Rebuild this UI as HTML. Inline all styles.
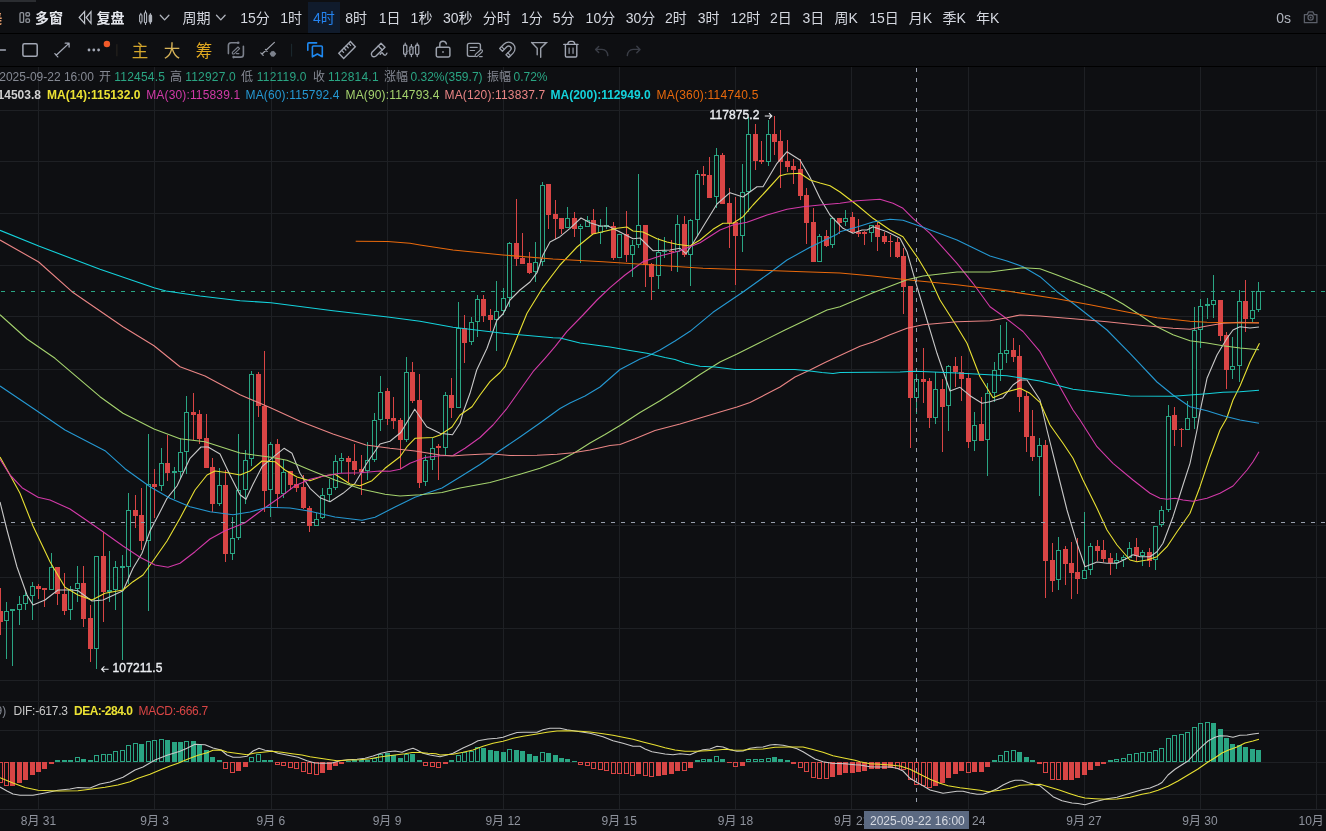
<!DOCTYPE html><html><head><meta charset="utf-8"><title>chart</title><style>
html,body{margin:0;padding:0;background:#0e0f12;}
body{width:1326px;height:831px;overflow:hidden;position:relative;font-family:"Liberation Sans","Noto Sans CJK SC",sans-serif;color:#d1d4dc;}
.t{position:absolute;white-space:nowrap;line-height:1;}
.tb1 .t{font-size:14px;top:10.5px;color:#d5d8e0;}
.r1 .t{font-size:12px;top:71px;}
.r2 .t{font-size:12px;top:89px;}
.gr{color:#2aa583;letter-spacing:.2px}.gr.n{letter-spacing:0}.gy{color:#858993}
.b{font-weight:bold}
.ax .t{font-size:12px;top:814.5px;color:#8f939d;transform:translateX(-50%);}
svg.ic{position:absolute;overflow:visible}

</style></head><body>
<div style="position:absolute;left:0;top:0;width:36px;height:2px;background:#2b2d31"></div>
<div style="position:absolute;left:0;top:33px;width:1326px;height:1px;background:#000"></div>
<div style="position:absolute;left:0;top:66px;width:1326px;height:1px;background:#000"></div>
<div style="position:absolute;left:308px;top:2px;width:32px;height:31px;background:#101b2c"></div>
<svg width="1326" height="764" viewBox="0 67 1326 764" style="position:absolute;left:0;top:67px">
<g stroke="#1e2024" stroke-width="1" shape-rendering="crispEdges">
<line x1="38.5" y1="67" x2="38.5" y2="809"/>
<line x1="154.5" y1="67" x2="154.5" y2="809"/>
<line x1="271.5" y1="67" x2="271.5" y2="809"/>
<line x1="387.5" y1="67" x2="387.5" y2="809"/>
<line x1="503.5" y1="67" x2="503.5" y2="809"/>
<line x1="619.5" y1="67" x2="619.5" y2="809"/>
<line x1="735.5" y1="67" x2="735.5" y2="809"/>
<line x1="851.5" y1="67" x2="851.5" y2="809"/>
<line x1="968.5" y1="67" x2="968.5" y2="809"/>
<line x1="1084.5" y1="67" x2="1084.5" y2="809"/>
<line x1="1200.5" y1="67" x2="1200.5" y2="809"/>
<line x1="1316.5" y1="67" x2="1316.5" y2="809"/>
<line x1="0" y1="110.5" x2="1326" y2="110.5"/>
<line x1="0" y1="161.5" x2="1326" y2="161.5"/>
<line x1="0" y1="213.5" x2="1326" y2="213.5"/>
<line x1="0" y1="265.5" x2="1326" y2="265.5"/>
<line x1="0" y1="316.5" x2="1326" y2="316.5"/>
<line x1="0" y1="369.5" x2="1326" y2="369.5"/>
<line x1="0" y1="421.5" x2="1326" y2="421.5"/>
<line x1="0" y1="473.5" x2="1326" y2="473.5"/>
<line x1="0" y1="525.5" x2="1326" y2="525.5"/>
<line x1="0" y1="577.5" x2="1326" y2="577.5"/>
<line x1="0" y1="628.5" x2="1326" y2="628.5"/>
<line x1="0" y1="680.5" x2="1326" y2="680.5"/>
<line x1="0" y1="730.5" x2="1326" y2="730.5"/>
<line x1="0" y1="762.5" x2="1326" y2="762.5"/>
<line x1="0" y1="794.5" x2="1326" y2="794.5"/>
</g>
<line x1="0" y1="701.5" x2="1326" y2="701.5" stroke="#191b1f" stroke-width="1" shape-rendering="crispEdges"/>
<line x1="0" y1="809.5" x2="1326" y2="809.5" stroke="#23252a" stroke-width="1" shape-rendering="crispEdges"/>
<line x1="1" y1="291.5" x2="1326" y2="291.5" stroke="#2aa583" stroke-width="1" stroke-dasharray="4 6" shape-rendering="crispEdges"/>
<g shape-rendering="crispEdges">
<line x1="0.5" y1="588" x2="0.5" y2="635" stroke="#d94545" stroke-width="1"/>
<rect x="-2" y="611" width="5" height="11" fill="#d94545"/>
<line x1="6.5" y1="602" x2="6.5" y2="611" stroke="#2aa583" stroke-width="1"/>
<line x1="6.5" y1="621" x2="6.5" y2="659" stroke="#2aa583" stroke-width="1"/>
<rect x="4.5" y="611.5" width="4" height="9" fill="#0e0f12" stroke="#2aa583" stroke-width="1"/>
<line x1="12.5" y1="611" x2="12.5" y2="666" stroke="#2aa583" stroke-width="1"/>
<rect x="10" y="609" width="5" height="2" fill="#2aa583"/>
<line x1="19.5" y1="596" x2="19.5" y2="604" stroke="#2aa583" stroke-width="1"/>
<line x1="19.5" y1="610" x2="19.5" y2="625" stroke="#2aa583" stroke-width="1"/>
<rect x="17.5" y="604.5" width="4" height="5" fill="#0e0f12" stroke="#2aa583" stroke-width="1"/>
<line x1="25.5" y1="590" x2="25.5" y2="595" stroke="#2aa583" stroke-width="1"/>
<line x1="25.5" y1="604" x2="25.5" y2="610" stroke="#2aa583" stroke-width="1"/>
<rect x="23.5" y="595.5" width="4" height="8" fill="#0e0f12" stroke="#2aa583" stroke-width="1"/>
<line x1="32.5" y1="582" x2="32.5" y2="586" stroke="#2aa583" stroke-width="1"/>
<line x1="32.5" y1="596" x2="32.5" y2="620" stroke="#2aa583" stroke-width="1"/>
<rect x="30.5" y="586.5" width="4" height="9" fill="#0e0f12" stroke="#2aa583" stroke-width="1"/>
<line x1="38.5" y1="584" x2="38.5" y2="599" stroke="#d94545" stroke-width="1"/>
<rect x="36" y="586" width="5" height="3" fill="#d94545"/>
<line x1="44.5" y1="588" x2="44.5" y2="607" stroke="#d94545" stroke-width="1"/>
<rect x="42" y="588" width="5" height="2" fill="#d94545"/>
<line x1="51.5" y1="553" x2="51.5" y2="567" stroke="#2aa583" stroke-width="1"/>
<rect x="49.5" y="567.5" width="4" height="22" fill="#0e0f12" stroke="#2aa583" stroke-width="1"/>
<line x1="57.5" y1="567" x2="57.5" y2="605" stroke="#d94545" stroke-width="1"/>
<rect x="55" y="567" width="5" height="27" fill="#d94545"/>
<line x1="64.5" y1="573" x2="64.5" y2="615" stroke="#d94545" stroke-width="1"/>
<rect x="62" y="594" width="5" height="17" fill="#d94545"/>
<line x1="70.5" y1="586" x2="70.5" y2="589" stroke="#2aa583" stroke-width="1"/>
<line x1="70.5" y1="610" x2="70.5" y2="620" stroke="#2aa583" stroke-width="1"/>
<rect x="68.5" y="589.5" width="4" height="20" fill="#0e0f12" stroke="#2aa583" stroke-width="1"/>
<line x1="77.5" y1="566" x2="77.5" y2="583" stroke="#2aa583" stroke-width="1"/>
<line x1="77.5" y1="589" x2="77.5" y2="602" stroke="#2aa583" stroke-width="1"/>
<rect x="75.5" y="583.5" width="4" height="5" fill="#0e0f12" stroke="#2aa583" stroke-width="1"/>
<line x1="83.5" y1="566" x2="83.5" y2="627" stroke="#d94545" stroke-width="1"/>
<rect x="81" y="583" width="5" height="36" fill="#d94545"/>
<line x1="90.5" y1="605" x2="90.5" y2="662" stroke="#d94545" stroke-width="1"/>
<rect x="88" y="618" width="5" height="31" fill="#d94545"/>
<line x1="96.5" y1="649" x2="96.5" y2="669" stroke="#2aa583" stroke-width="1"/>
<rect x="94.5" y="556.5" width="4" height="92" fill="#0e0f12" stroke="#2aa583" stroke-width="1"/>
<line x1="103.5" y1="532" x2="103.5" y2="622" stroke="#d94545" stroke-width="1"/>
<rect x="101" y="556" width="5" height="36" fill="#d94545"/>
<line x1="109.5" y1="551" x2="109.5" y2="590" stroke="#2aa583" stroke-width="1"/>
<line x1="109.5" y1="592" x2="109.5" y2="602" stroke="#2aa583" stroke-width="1"/>
<rect x="107" y="590" width="5" height="2" fill="#2aa583"/>
<line x1="115.5" y1="561" x2="115.5" y2="567" stroke="#2aa583" stroke-width="1"/>
<line x1="115.5" y1="590" x2="115.5" y2="610" stroke="#2aa583" stroke-width="1"/>
<rect x="113.5" y="567.5" width="4" height="22" fill="#0e0f12" stroke="#2aa583" stroke-width="1"/>
<line x1="122.5" y1="555" x2="122.5" y2="566" stroke="#2aa583" stroke-width="1"/>
<line x1="122.5" y1="568" x2="122.5" y2="660" stroke="#2aa583" stroke-width="1"/>
<rect x="120" y="566" width="5" height="2" fill="#2aa583"/>
<line x1="128.5" y1="493" x2="128.5" y2="510" stroke="#2aa583" stroke-width="1"/>
<line x1="128.5" y1="567" x2="128.5" y2="584" stroke="#2aa583" stroke-width="1"/>
<rect x="126.5" y="510.5" width="4" height="56" fill="#0e0f12" stroke="#2aa583" stroke-width="1"/>
<line x1="135.5" y1="495" x2="135.5" y2="528" stroke="#d94545" stroke-width="1"/>
<rect x="133" y="510" width="5" height="6" fill="#d94545"/>
<line x1="141.5" y1="488" x2="141.5" y2="550" stroke="#d94545" stroke-width="1"/>
<rect x="139" y="515" width="5" height="26" fill="#d94545"/>
<line x1="148.5" y1="434" x2="148.5" y2="484" stroke="#2aa583" stroke-width="1"/>
<line x1="148.5" y1="541" x2="148.5" y2="611" stroke="#2aa583" stroke-width="1"/>
<rect x="146.5" y="484.5" width="4" height="56" fill="#0e0f12" stroke="#2aa583" stroke-width="1"/>
<line x1="154.5" y1="469" x2="154.5" y2="518" stroke="#d94545" stroke-width="1"/>
<rect x="152" y="484" width="5" height="3" fill="#d94545"/>
<line x1="161.5" y1="448" x2="161.5" y2="463" stroke="#2aa583" stroke-width="1"/>
<line x1="161.5" y1="486" x2="161.5" y2="491" stroke="#2aa583" stroke-width="1"/>
<rect x="159.5" y="463.5" width="4" height="22" fill="#0e0f12" stroke="#2aa583" stroke-width="1"/>
<line x1="167.5" y1="435" x2="167.5" y2="481" stroke="#d94545" stroke-width="1"/>
<rect x="165" y="463" width="5" height="10" fill="#d94545"/>
<line x1="174.5" y1="467" x2="174.5" y2="471" stroke="#2aa583" stroke-width="1"/>
<line x1="174.5" y1="473" x2="174.5" y2="499" stroke="#2aa583" stroke-width="1"/>
<rect x="172" y="471" width="5" height="2" fill="#2aa583"/>
<line x1="180.5" y1="438" x2="180.5" y2="452" stroke="#2aa583" stroke-width="1"/>
<line x1="180.5" y1="472" x2="180.5" y2="478" stroke="#2aa583" stroke-width="1"/>
<rect x="178.5" y="452.5" width="4" height="19" fill="#0e0f12" stroke="#2aa583" stroke-width="1"/>
<line x1="186.5" y1="396" x2="186.5" y2="412" stroke="#2aa583" stroke-width="1"/>
<line x1="186.5" y1="452" x2="186.5" y2="474" stroke="#2aa583" stroke-width="1"/>
<rect x="184.5" y="412.5" width="4" height="39" fill="#0e0f12" stroke="#2aa583" stroke-width="1"/>
<line x1="193.5" y1="393" x2="193.5" y2="440" stroke="#d94545" stroke-width="1"/>
<rect x="191" y="412" width="5" height="3" fill="#d94545"/>
<line x1="199.5" y1="410" x2="199.5" y2="444" stroke="#d94545" stroke-width="1"/>
<rect x="197" y="414" width="5" height="25" fill="#d94545"/>
<line x1="206.5" y1="414" x2="206.5" y2="468" stroke="#d94545" stroke-width="1"/>
<rect x="204" y="438" width="5" height="30" fill="#d94545"/>
<line x1="212.5" y1="458" x2="212.5" y2="512" stroke="#d94545" stroke-width="1"/>
<rect x="210" y="467" width="5" height="37" fill="#d94545"/>
<line x1="219.5" y1="468" x2="219.5" y2="485" stroke="#2aa583" stroke-width="1"/>
<line x1="219.5" y1="504" x2="219.5" y2="506" stroke="#2aa583" stroke-width="1"/>
<rect x="217.5" y="485.5" width="4" height="18" fill="#0e0f12" stroke="#2aa583" stroke-width="1"/>
<line x1="225.5" y1="470" x2="225.5" y2="562" stroke="#d94545" stroke-width="1"/>
<rect x="223" y="485" width="5" height="69" fill="#d94545"/>
<line x1="232.5" y1="517" x2="232.5" y2="538" stroke="#2aa583" stroke-width="1"/>
<line x1="232.5" y1="554" x2="232.5" y2="560" stroke="#2aa583" stroke-width="1"/>
<rect x="230.5" y="538.5" width="4" height="15" fill="#0e0f12" stroke="#2aa583" stroke-width="1"/>
<line x1="238.5" y1="434" x2="238.5" y2="490" stroke="#2aa583" stroke-width="1"/>
<line x1="238.5" y1="538" x2="238.5" y2="540" stroke="#2aa583" stroke-width="1"/>
<rect x="236.5" y="490.5" width="4" height="47" fill="#0e0f12" stroke="#2aa583" stroke-width="1"/>
<line x1="245.5" y1="450" x2="245.5" y2="460" stroke="#2aa583" stroke-width="1"/>
<line x1="245.5" y1="490" x2="245.5" y2="504" stroke="#2aa583" stroke-width="1"/>
<rect x="243.5" y="460.5" width="4" height="29" fill="#0e0f12" stroke="#2aa583" stroke-width="1"/>
<line x1="251.5" y1="371" x2="251.5" y2="374" stroke="#2aa583" stroke-width="1"/>
<line x1="251.5" y1="459" x2="251.5" y2="466" stroke="#2aa583" stroke-width="1"/>
<rect x="249.5" y="374.5" width="4" height="84" fill="#0e0f12" stroke="#2aa583" stroke-width="1"/>
<line x1="258.5" y1="372" x2="258.5" y2="417" stroke="#d94545" stroke-width="1"/>
<rect x="256" y="374" width="5" height="32" fill="#d94545"/>
<line x1="264.5" y1="351" x2="264.5" y2="512" stroke="#d94545" stroke-width="1"/>
<rect x="262" y="406" width="5" height="85" fill="#d94545"/>
<line x1="270.5" y1="442" x2="270.5" y2="444" stroke="#2aa583" stroke-width="1"/>
<line x1="270.5" y1="490" x2="270.5" y2="517" stroke="#2aa583" stroke-width="1"/>
<rect x="268.5" y="444.5" width="4" height="45" fill="#0e0f12" stroke="#2aa583" stroke-width="1"/>
<line x1="277.5" y1="439" x2="277.5" y2="508" stroke="#d94545" stroke-width="1"/>
<rect x="275" y="444" width="5" height="50" fill="#d94545"/>
<line x1="283.5" y1="460" x2="283.5" y2="472" stroke="#2aa583" stroke-width="1"/>
<line x1="283.5" y1="494" x2="283.5" y2="498" stroke="#2aa583" stroke-width="1"/>
<rect x="281.5" y="472.5" width="4" height="21" fill="#0e0f12" stroke="#2aa583" stroke-width="1"/>
<line x1="290.5" y1="471" x2="290.5" y2="490" stroke="#d94545" stroke-width="1"/>
<rect x="288" y="471" width="5" height="14" fill="#d94545"/>
<line x1="296.5" y1="478" x2="296.5" y2="492" stroke="#d94545" stroke-width="1"/>
<rect x="294" y="484" width="5" height="4" fill="#d94545"/>
<line x1="303.5" y1="475" x2="303.5" y2="509" stroke="#d94545" stroke-width="1"/>
<rect x="301" y="487" width="5" height="21" fill="#d94545"/>
<line x1="309.5" y1="506" x2="309.5" y2="532" stroke="#d94545" stroke-width="1"/>
<rect x="307" y="508" width="5" height="18" fill="#d94545"/>
<line x1="316.5" y1="513" x2="316.5" y2="519" stroke="#2aa583" stroke-width="1"/>
<rect x="314.5" y="519.5" width="4" height="6" fill="#0e0f12" stroke="#2aa583" stroke-width="1"/>
<line x1="322.5" y1="488" x2="322.5" y2="495" stroke="#2aa583" stroke-width="1"/>
<line x1="322.5" y1="518" x2="322.5" y2="519" stroke="#2aa583" stroke-width="1"/>
<rect x="320.5" y="495.5" width="4" height="22" fill="#0e0f12" stroke="#2aa583" stroke-width="1"/>
<line x1="329.5" y1="479" x2="329.5" y2="488" stroke="#2aa583" stroke-width="1"/>
<line x1="329.5" y1="495" x2="329.5" y2="502" stroke="#2aa583" stroke-width="1"/>
<rect x="327.5" y="488.5" width="4" height="6" fill="#0e0f12" stroke="#2aa583" stroke-width="1"/>
<line x1="335.5" y1="455" x2="335.5" y2="461" stroke="#2aa583" stroke-width="1"/>
<line x1="335.5" y1="488" x2="335.5" y2="490" stroke="#2aa583" stroke-width="1"/>
<rect x="333.5" y="461.5" width="4" height="26" fill="#0e0f12" stroke="#2aa583" stroke-width="1"/>
<line x1="341.5" y1="453" x2="341.5" y2="458" stroke="#2aa583" stroke-width="1"/>
<line x1="341.5" y1="461" x2="341.5" y2="473" stroke="#2aa583" stroke-width="1"/>
<rect x="339.5" y="458.5" width="4" height="2" fill="#0e0f12" stroke="#2aa583" stroke-width="1"/>
<line x1="348.5" y1="456" x2="348.5" y2="482" stroke="#d94545" stroke-width="1"/>
<rect x="346" y="458" width="5" height="4" fill="#d94545"/>
<line x1="354.5" y1="444" x2="354.5" y2="475" stroke="#d94545" stroke-width="1"/>
<rect x="352" y="461" width="5" height="9" fill="#d94545"/>
<line x1="361.5" y1="455" x2="361.5" y2="495" stroke="#d94545" stroke-width="1"/>
<rect x="359" y="469" width="5" height="3" fill="#d94545"/>
<line x1="367.5" y1="442" x2="367.5" y2="460" stroke="#2aa583" stroke-width="1"/>
<line x1="367.5" y1="471" x2="367.5" y2="480" stroke="#2aa583" stroke-width="1"/>
<rect x="365.5" y="460.5" width="4" height="10" fill="#0e0f12" stroke="#2aa583" stroke-width="1"/>
<line x1="374.5" y1="413" x2="374.5" y2="420" stroke="#2aa583" stroke-width="1"/>
<line x1="374.5" y1="460" x2="374.5" y2="462" stroke="#2aa583" stroke-width="1"/>
<rect x="372.5" y="420.5" width="4" height="39" fill="#0e0f12" stroke="#2aa583" stroke-width="1"/>
<line x1="380.5" y1="376" x2="380.5" y2="392" stroke="#2aa583" stroke-width="1"/>
<line x1="380.5" y1="420" x2="380.5" y2="431" stroke="#2aa583" stroke-width="1"/>
<rect x="378.5" y="392.5" width="4" height="27" fill="#0e0f12" stroke="#2aa583" stroke-width="1"/>
<line x1="387.5" y1="388" x2="387.5" y2="425" stroke="#d94545" stroke-width="1"/>
<rect x="385" y="391" width="5" height="28" fill="#d94545"/>
<line x1="393.5" y1="397" x2="393.5" y2="429" stroke="#d94545" stroke-width="1"/>
<rect x="391" y="418" width="5" height="3" fill="#d94545"/>
<line x1="400.5" y1="418" x2="400.5" y2="469" stroke="#d94545" stroke-width="1"/>
<rect x="398" y="420" width="5" height="20" fill="#d94545"/>
<line x1="406.5" y1="357" x2="406.5" y2="372" stroke="#2aa583" stroke-width="1"/>
<line x1="406.5" y1="440" x2="406.5" y2="442" stroke="#2aa583" stroke-width="1"/>
<rect x="404.5" y="372.5" width="4" height="67" fill="#0e0f12" stroke="#2aa583" stroke-width="1"/>
<line x1="412.5" y1="362" x2="412.5" y2="403" stroke="#d94545" stroke-width="1"/>
<rect x="410" y="372" width="5" height="29" fill="#d94545"/>
<line x1="419.5" y1="374" x2="419.5" y2="488" stroke="#d94545" stroke-width="1"/>
<rect x="417" y="400" width="5" height="83" fill="#d94545"/>
<line x1="425.5" y1="455" x2="425.5" y2="460" stroke="#2aa583" stroke-width="1"/>
<line x1="425.5" y1="482" x2="425.5" y2="486" stroke="#2aa583" stroke-width="1"/>
<rect x="423.5" y="460.5" width="4" height="21" fill="#0e0f12" stroke="#2aa583" stroke-width="1"/>
<line x1="432.5" y1="438" x2="432.5" y2="448" stroke="#2aa583" stroke-width="1"/>
<line x1="432.5" y1="460" x2="432.5" y2="470" stroke="#2aa583" stroke-width="1"/>
<rect x="430.5" y="448.5" width="4" height="11" fill="#0e0f12" stroke="#2aa583" stroke-width="1"/>
<line x1="438.5" y1="444" x2="438.5" y2="480" stroke="#d94545" stroke-width="1"/>
<rect x="436" y="446" width="5" height="2" fill="#d94545"/>
<line x1="445.5" y1="392" x2="445.5" y2="395" stroke="#2aa583" stroke-width="1"/>
<line x1="445.5" y1="448" x2="445.5" y2="455" stroke="#2aa583" stroke-width="1"/>
<rect x="443.5" y="395.5" width="4" height="52" fill="#0e0f12" stroke="#2aa583" stroke-width="1"/>
<line x1="451.5" y1="378" x2="451.5" y2="418" stroke="#d94545" stroke-width="1"/>
<rect x="449" y="395" width="5" height="13" fill="#d94545"/>
<line x1="458.5" y1="302" x2="458.5" y2="328" stroke="#2aa583" stroke-width="1"/>
<rect x="456.5" y="328.5" width="4" height="79" fill="#0e0f12" stroke="#2aa583" stroke-width="1"/>
<line x1="464.5" y1="315" x2="464.5" y2="363" stroke="#d94545" stroke-width="1"/>
<rect x="462" y="328" width="5" height="15" fill="#d94545"/>
<line x1="471.5" y1="317" x2="471.5" y2="322" stroke="#2aa583" stroke-width="1"/>
<line x1="471.5" y1="342" x2="471.5" y2="345" stroke="#2aa583" stroke-width="1"/>
<rect x="469.5" y="322.5" width="4" height="19" fill="#0e0f12" stroke="#2aa583" stroke-width="1"/>
<line x1="477.5" y1="295" x2="477.5" y2="299" stroke="#2aa583" stroke-width="1"/>
<line x1="477.5" y1="322" x2="477.5" y2="337" stroke="#2aa583" stroke-width="1"/>
<rect x="475.5" y="299.5" width="4" height="22" fill="#0e0f12" stroke="#2aa583" stroke-width="1"/>
<line x1="483.5" y1="295" x2="483.5" y2="322" stroke="#d94545" stroke-width="1"/>
<rect x="481" y="299" width="5" height="17" fill="#d94545"/>
<line x1="490.5" y1="309" x2="490.5" y2="331" stroke="#d94545" stroke-width="1"/>
<rect x="488" y="315" width="5" height="5" fill="#d94545"/>
<line x1="496.5" y1="281" x2="496.5" y2="311" stroke="#2aa583" stroke-width="1"/>
<line x1="496.5" y1="320" x2="496.5" y2="351" stroke="#2aa583" stroke-width="1"/>
<rect x="494.5" y="311.5" width="4" height="8" fill="#0e0f12" stroke="#2aa583" stroke-width="1"/>
<line x1="503.5" y1="288" x2="503.5" y2="298" stroke="#2aa583" stroke-width="1"/>
<line x1="503.5" y1="311" x2="503.5" y2="315" stroke="#2aa583" stroke-width="1"/>
<rect x="501.5" y="298.5" width="4" height="12" fill="#0e0f12" stroke="#2aa583" stroke-width="1"/>
<line x1="509.5" y1="242" x2="509.5" y2="243" stroke="#2aa583" stroke-width="1"/>
<line x1="509.5" y1="298" x2="509.5" y2="307" stroke="#2aa583" stroke-width="1"/>
<rect x="507.5" y="243.5" width="4" height="54" fill="#0e0f12" stroke="#2aa583" stroke-width="1"/>
<line x1="516.5" y1="199" x2="516.5" y2="266" stroke="#d94545" stroke-width="1"/>
<rect x="514" y="243" width="5" height="16" fill="#d94545"/>
<line x1="522.5" y1="233" x2="522.5" y2="264" stroke="#d94545" stroke-width="1"/>
<rect x="520" y="258" width="5" height="6" fill="#d94545"/>
<line x1="529.5" y1="252" x2="529.5" y2="274" stroke="#d94545" stroke-width="1"/>
<rect x="527" y="263" width="5" height="10" fill="#d94545"/>
<line x1="535.5" y1="242" x2="535.5" y2="262" stroke="#2aa583" stroke-width="1"/>
<line x1="535.5" y1="272" x2="535.5" y2="282" stroke="#2aa583" stroke-width="1"/>
<rect x="533.5" y="262.5" width="4" height="9" fill="#0e0f12" stroke="#2aa583" stroke-width="1"/>
<line x1="542.5" y1="182" x2="542.5" y2="185" stroke="#2aa583" stroke-width="1"/>
<line x1="542.5" y1="262" x2="542.5" y2="266" stroke="#2aa583" stroke-width="1"/>
<rect x="540.5" y="185.5" width="4" height="76" fill="#0e0f12" stroke="#2aa583" stroke-width="1"/>
<line x1="548.5" y1="184" x2="548.5" y2="229" stroke="#d94545" stroke-width="1"/>
<rect x="546" y="184" width="5" height="31" fill="#d94545"/>
<line x1="555.5" y1="200" x2="555.5" y2="239" stroke="#d94545" stroke-width="1"/>
<rect x="553" y="214" width="5" height="5" fill="#d94545"/>
<line x1="561.5" y1="218" x2="561.5" y2="234" stroke="#d94545" stroke-width="1"/>
<rect x="559" y="218" width="5" height="11" fill="#d94545"/>
<line x1="567.5" y1="207" x2="567.5" y2="218" stroke="#2aa583" stroke-width="1"/>
<rect x="565.5" y="218.5" width="4" height="9" fill="#0e0f12" stroke="#2aa583" stroke-width="1"/>
<line x1="574.5" y1="212" x2="574.5" y2="237" stroke="#d94545" stroke-width="1"/>
<rect x="572" y="218" width="5" height="11" fill="#d94545"/>
<line x1="580.5" y1="224" x2="580.5" y2="226" stroke="#2aa583" stroke-width="1"/>
<line x1="580.5" y1="229" x2="580.5" y2="263" stroke="#2aa583" stroke-width="1"/>
<rect x="578.5" y="226.5" width="4" height="2" fill="#0e0f12" stroke="#2aa583" stroke-width="1"/>
<line x1="587.5" y1="216" x2="587.5" y2="220" stroke="#2aa583" stroke-width="1"/>
<rect x="585.5" y="220.5" width="4" height="6" fill="#0e0f12" stroke="#2aa583" stroke-width="1"/>
<line x1="593.5" y1="209" x2="593.5" y2="234" stroke="#d94545" stroke-width="1"/>
<rect x="591" y="220" width="5" height="14" fill="#d94545"/>
<line x1="600.5" y1="219" x2="600.5" y2="226" stroke="#2aa583" stroke-width="1"/>
<line x1="600.5" y1="233" x2="600.5" y2="244" stroke="#2aa583" stroke-width="1"/>
<rect x="598.5" y="226.5" width="4" height="6" fill="#0e0f12" stroke="#2aa583" stroke-width="1"/>
<line x1="606.5" y1="207" x2="606.5" y2="225" stroke="#2aa583" stroke-width="1"/>
<line x1="606.5" y1="227" x2="606.5" y2="229" stroke="#2aa583" stroke-width="1"/>
<rect x="604" y="225" width="5" height="2" fill="#2aa583"/>
<line x1="613.5" y1="222" x2="613.5" y2="260" stroke="#d94545" stroke-width="1"/>
<rect x="611" y="226" width="5" height="32" fill="#d94545"/>
<rect x="617.5" y="234.5" width="4" height="23" fill="#0e0f12" stroke="#2aa583" stroke-width="1"/>
<line x1="626.5" y1="211" x2="626.5" y2="262" stroke="#d94545" stroke-width="1"/>
<rect x="624" y="234" width="5" height="21" fill="#d94545"/>
<line x1="632.5" y1="240" x2="632.5" y2="245" stroke="#2aa583" stroke-width="1"/>
<line x1="632.5" y1="255" x2="632.5" y2="277" stroke="#2aa583" stroke-width="1"/>
<rect x="630.5" y="245.5" width="4" height="9" fill="#0e0f12" stroke="#2aa583" stroke-width="1"/>
<line x1="638.5" y1="174" x2="638.5" y2="225" stroke="#2aa583" stroke-width="1"/>
<line x1="638.5" y1="245" x2="638.5" y2="248" stroke="#2aa583" stroke-width="1"/>
<rect x="636.5" y="225.5" width="4" height="19" fill="#0e0f12" stroke="#2aa583" stroke-width="1"/>
<line x1="645.5" y1="225" x2="645.5" y2="287" stroke="#d94545" stroke-width="1"/>
<rect x="643" y="225" width="5" height="40" fill="#d94545"/>
<line x1="651.5" y1="263" x2="651.5" y2="300" stroke="#d94545" stroke-width="1"/>
<rect x="649" y="264" width="5" height="13" fill="#d94545"/>
<line x1="658.5" y1="238" x2="658.5" y2="252" stroke="#2aa583" stroke-width="1"/>
<line x1="658.5" y1="276" x2="658.5" y2="289" stroke="#2aa583" stroke-width="1"/>
<rect x="656.5" y="252.5" width="4" height="23" fill="#0e0f12" stroke="#2aa583" stroke-width="1"/>
<line x1="664.5" y1="237" x2="664.5" y2="251" stroke="#2aa583" stroke-width="1"/>
<line x1="664.5" y1="252" x2="664.5" y2="258" stroke="#2aa583" stroke-width="1"/>
<rect x="662" y="251" width="5" height="1" fill="#2aa583"/>
<line x1="671.5" y1="240" x2="671.5" y2="271" stroke="#d94545" stroke-width="1"/>
<rect x="669" y="251" width="5" height="1" fill="#d94545"/>
<line x1="677.5" y1="215" x2="677.5" y2="224" stroke="#2aa583" stroke-width="1"/>
<line x1="677.5" y1="252" x2="677.5" y2="272" stroke="#2aa583" stroke-width="1"/>
<rect x="675.5" y="224.5" width="4" height="27" fill="#0e0f12" stroke="#2aa583" stroke-width="1"/>
<line x1="684.5" y1="216" x2="684.5" y2="257" stroke="#d94545" stroke-width="1"/>
<rect x="682" y="224" width="5" height="31" fill="#d94545"/>
<line x1="690.5" y1="219" x2="690.5" y2="220" stroke="#2aa583" stroke-width="1"/>
<line x1="690.5" y1="255" x2="690.5" y2="286" stroke="#2aa583" stroke-width="1"/>
<rect x="688.5" y="220.5" width="4" height="34" fill="#0e0f12" stroke="#2aa583" stroke-width="1"/>
<line x1="697.5" y1="170" x2="697.5" y2="174" stroke="#2aa583" stroke-width="1"/>
<line x1="697.5" y1="220" x2="697.5" y2="236" stroke="#2aa583" stroke-width="1"/>
<rect x="695.5" y="174.5" width="4" height="45" fill="#0e0f12" stroke="#2aa583" stroke-width="1"/>
<line x1="703.5" y1="166" x2="703.5" y2="185" stroke="#d94545" stroke-width="1"/>
<rect x="701" y="174" width="5" height="2" fill="#d94545"/>
<line x1="709.5" y1="157" x2="709.5" y2="198" stroke="#d94545" stroke-width="1"/>
<rect x="707" y="175" width="5" height="23" fill="#d94545"/>
<line x1="716.5" y1="148" x2="716.5" y2="155" stroke="#2aa583" stroke-width="1"/>
<line x1="716.5" y1="197" x2="716.5" y2="208" stroke="#2aa583" stroke-width="1"/>
<rect x="714.5" y="155.5" width="4" height="41" fill="#0e0f12" stroke="#2aa583" stroke-width="1"/>
<line x1="722.5" y1="153" x2="722.5" y2="204" stroke="#d94545" stroke-width="1"/>
<rect x="720" y="155" width="5" height="49" fill="#d94545"/>
<line x1="729.5" y1="188" x2="729.5" y2="248" stroke="#d94545" stroke-width="1"/>
<rect x="727" y="203" width="5" height="20" fill="#d94545"/>
<line x1="735.5" y1="197" x2="735.5" y2="285" stroke="#d94545" stroke-width="1"/>
<rect x="733" y="222" width="5" height="14" fill="#d94545"/>
<line x1="742.5" y1="164" x2="742.5" y2="192" stroke="#2aa583" stroke-width="1"/>
<line x1="742.5" y1="236" x2="742.5" y2="252" stroke="#2aa583" stroke-width="1"/>
<rect x="740.5" y="192.5" width="4" height="43" fill="#0e0f12" stroke="#2aa583" stroke-width="1"/>
<line x1="748.5" y1="117" x2="748.5" y2="134" stroke="#2aa583" stroke-width="1"/>
<line x1="748.5" y1="192" x2="748.5" y2="212" stroke="#2aa583" stroke-width="1"/>
<rect x="746.5" y="134.5" width="4" height="57" fill="#0e0f12" stroke="#2aa583" stroke-width="1"/>
<line x1="755.5" y1="124" x2="755.5" y2="170" stroke="#d94545" stroke-width="1"/>
<rect x="753" y="134" width="5" height="27" fill="#d94545"/>
<line x1="761.5" y1="141" x2="761.5" y2="164" stroke="#d94545" stroke-width="1"/>
<rect x="759" y="160" width="5" height="2" fill="#d94545"/>
<line x1="768.5" y1="120" x2="768.5" y2="134" stroke="#2aa583" stroke-width="1"/>
<line x1="768.5" y1="162" x2="768.5" y2="166" stroke="#2aa583" stroke-width="1"/>
<rect x="766.5" y="134.5" width="4" height="27" fill="#0e0f12" stroke="#2aa583" stroke-width="1"/>
<line x1="774.5" y1="116" x2="774.5" y2="155" stroke="#d94545" stroke-width="1"/>
<rect x="772" y="134" width="5" height="8" fill="#d94545"/>
<line x1="780.5" y1="130" x2="780.5" y2="188" stroke="#d94545" stroke-width="1"/>
<rect x="778" y="141" width="5" height="21" fill="#d94545"/>
<line x1="787.5" y1="140" x2="787.5" y2="172" stroke="#d94545" stroke-width="1"/>
<rect x="785" y="161" width="5" height="6" fill="#d94545"/>
<line x1="793.5" y1="159" x2="793.5" y2="184" stroke="#d94545" stroke-width="1"/>
<rect x="791" y="166" width="5" height="4" fill="#d94545"/>
<line x1="800.5" y1="159" x2="800.5" y2="200" stroke="#d94545" stroke-width="1"/>
<rect x="798" y="169" width="5" height="27" fill="#d94545"/>
<line x1="806.5" y1="188" x2="806.5" y2="244" stroke="#d94545" stroke-width="1"/>
<rect x="804" y="195" width="5" height="28" fill="#d94545"/>
<line x1="813.5" y1="208" x2="813.5" y2="262" stroke="#d94545" stroke-width="1"/>
<rect x="811" y="222" width="5" height="40" fill="#d94545"/>
<line x1="819.5" y1="234" x2="819.5" y2="236" stroke="#2aa583" stroke-width="1"/>
<rect x="817.5" y="236.5" width="4" height="25" fill="#0e0f12" stroke="#2aa583" stroke-width="1"/>
<line x1="826.5" y1="230" x2="826.5" y2="247" stroke="#d94545" stroke-width="1"/>
<rect x="824" y="236" width="5" height="10" fill="#d94545"/>
<line x1="832.5" y1="217" x2="832.5" y2="218" stroke="#2aa583" stroke-width="1"/>
<line x1="832.5" y1="245" x2="832.5" y2="248" stroke="#2aa583" stroke-width="1"/>
<rect x="830.5" y="218.5" width="4" height="26" fill="#0e0f12" stroke="#2aa583" stroke-width="1"/>
<line x1="839.5" y1="218" x2="839.5" y2="234" stroke="#d94545" stroke-width="1"/>
<rect x="837" y="218" width="5" height="5" fill="#d94545"/>
<line x1="845.5" y1="210" x2="845.5" y2="218" stroke="#2aa583" stroke-width="1"/>
<line x1="845.5" y1="222" x2="845.5" y2="226" stroke="#2aa583" stroke-width="1"/>
<rect x="843.5" y="218.5" width="4" height="3" fill="#0e0f12" stroke="#2aa583" stroke-width="1"/>
<line x1="852.5" y1="212" x2="852.5" y2="233" stroke="#d94545" stroke-width="1"/>
<rect x="850" y="217" width="5" height="15" fill="#d94545"/>
<line x1="858.5" y1="219" x2="858.5" y2="237" stroke="#d94545" stroke-width="1"/>
<rect x="856" y="232" width="5" height="2" fill="#d94545"/>
<line x1="864.5" y1="231" x2="864.5" y2="245" stroke="#d94545" stroke-width="1"/>
<rect x="862" y="232" width="5" height="2" fill="#d94545"/>
<line x1="871.5" y1="233" x2="871.5" y2="242" stroke="#2aa583" stroke-width="1"/>
<rect x="869.5" y="225.5" width="4" height="7" fill="#0e0f12" stroke="#2aa583" stroke-width="1"/>
<line x1="877.5" y1="222" x2="877.5" y2="251" stroke="#d94545" stroke-width="1"/>
<rect x="875" y="225" width="5" height="12" fill="#d94545"/>
<line x1="884.5" y1="232" x2="884.5" y2="244" stroke="#d94545" stroke-width="1"/>
<rect x="882" y="236" width="5" height="6" fill="#d94545"/>
<line x1="890.5" y1="235" x2="890.5" y2="257" stroke="#d94545" stroke-width="1"/>
<rect x="888" y="241" width="5" height="1" fill="#d94545"/>
<line x1="897.5" y1="238" x2="897.5" y2="258" stroke="#d94545" stroke-width="1"/>
<rect x="895" y="242" width="5" height="15" fill="#d94545"/>
<line x1="903.5" y1="248" x2="903.5" y2="314" stroke="#d94545" stroke-width="1"/>
<rect x="901" y="256" width="5" height="31" fill="#d94545"/>
<line x1="910.5" y1="286" x2="910.5" y2="448" stroke="#d94545" stroke-width="1"/>
<rect x="908" y="286" width="5" height="112" fill="#d94545"/>
<line x1="916.5" y1="374" x2="916.5" y2="379" stroke="#2aa583" stroke-width="1"/>
<line x1="916.5" y1="398" x2="916.5" y2="414" stroke="#2aa583" stroke-width="1"/>
<rect x="914.5" y="379.5" width="4" height="18" fill="#0e0f12" stroke="#2aa583" stroke-width="1"/>
<line x1="923.5" y1="348" x2="923.5" y2="403" stroke="#d94545" stroke-width="1"/>
<rect x="921" y="379" width="5" height="3" fill="#d94545"/>
<line x1="929.5" y1="378" x2="929.5" y2="428" stroke="#d94545" stroke-width="1"/>
<rect x="927" y="381" width="5" height="37" fill="#d94545"/>
<line x1="935.5" y1="372" x2="935.5" y2="389" stroke="#2aa583" stroke-width="1"/>
<line x1="935.5" y1="418" x2="935.5" y2="424" stroke="#2aa583" stroke-width="1"/>
<rect x="933.5" y="389.5" width="4" height="28" fill="#0e0f12" stroke="#2aa583" stroke-width="1"/>
<line x1="942.5" y1="379" x2="942.5" y2="452" stroke="#d94545" stroke-width="1"/>
<rect x="940" y="389" width="5" height="18" fill="#d94545"/>
<line x1="948.5" y1="365" x2="948.5" y2="366" stroke="#2aa583" stroke-width="1"/>
<line x1="948.5" y1="406" x2="948.5" y2="431" stroke="#2aa583" stroke-width="1"/>
<rect x="946.5" y="366.5" width="4" height="39" fill="#0e0f12" stroke="#2aa583" stroke-width="1"/>
<line x1="955.5" y1="357" x2="955.5" y2="387" stroke="#d94545" stroke-width="1"/>
<rect x="953" y="366" width="5" height="6" fill="#d94545"/>
<line x1="961.5" y1="356" x2="961.5" y2="401" stroke="#d94545" stroke-width="1"/>
<rect x="959" y="372" width="5" height="7" fill="#d94545"/>
<line x1="968.5" y1="373" x2="968.5" y2="448" stroke="#d94545" stroke-width="1"/>
<rect x="966" y="378" width="5" height="64" fill="#d94545"/>
<line x1="974.5" y1="412" x2="974.5" y2="425" stroke="#2aa583" stroke-width="1"/>
<line x1="974.5" y1="441" x2="974.5" y2="451" stroke="#2aa583" stroke-width="1"/>
<rect x="972.5" y="425.5" width="4" height="15" fill="#0e0f12" stroke="#2aa583" stroke-width="1"/>
<line x1="981.5" y1="397" x2="981.5" y2="441" stroke="#d94545" stroke-width="1"/>
<rect x="979" y="424" width="5" height="17" fill="#d94545"/>
<line x1="987.5" y1="383" x2="987.5" y2="393" stroke="#2aa583" stroke-width="1"/>
<line x1="987.5" y1="440" x2="987.5" y2="476" stroke="#2aa583" stroke-width="1"/>
<rect x="985.5" y="393.5" width="4" height="46" fill="#0e0f12" stroke="#2aa583" stroke-width="1"/>
<line x1="994.5" y1="362" x2="994.5" y2="370" stroke="#2aa583" stroke-width="1"/>
<line x1="994.5" y1="393" x2="994.5" y2="402" stroke="#2aa583" stroke-width="1"/>
<rect x="992.5" y="370.5" width="4" height="22" fill="#0e0f12" stroke="#2aa583" stroke-width="1"/>
<line x1="1000.5" y1="325" x2="1000.5" y2="353" stroke="#2aa583" stroke-width="1"/>
<line x1="1000.5" y1="370" x2="1000.5" y2="381" stroke="#2aa583" stroke-width="1"/>
<rect x="998.5" y="353.5" width="4" height="16" fill="#0e0f12" stroke="#2aa583" stroke-width="1"/>
<line x1="1006.5" y1="322" x2="1006.5" y2="350" stroke="#2aa583" stroke-width="1"/>
<line x1="1006.5" y1="354" x2="1006.5" y2="363" stroke="#2aa583" stroke-width="1"/>
<rect x="1004.5" y="350.5" width="4" height="3" fill="#0e0f12" stroke="#2aa583" stroke-width="1"/>
<line x1="1013.5" y1="338" x2="1013.5" y2="362" stroke="#d94545" stroke-width="1"/>
<rect x="1011" y="350" width="5" height="7" fill="#d94545"/>
<line x1="1019.5" y1="345" x2="1019.5" y2="412" stroke="#d94545" stroke-width="1"/>
<rect x="1017" y="356" width="5" height="41" fill="#d94545"/>
<line x1="1026.5" y1="392" x2="1026.5" y2="452" stroke="#d94545" stroke-width="1"/>
<rect x="1024" y="396" width="5" height="41" fill="#d94545"/>
<line x1="1032.5" y1="410" x2="1032.5" y2="461" stroke="#d94545" stroke-width="1"/>
<rect x="1030" y="436" width="5" height="21" fill="#d94545"/>
<line x1="1039.5" y1="438" x2="1039.5" y2="445" stroke="#2aa583" stroke-width="1"/>
<line x1="1039.5" y1="457" x2="1039.5" y2="496" stroke="#2aa583" stroke-width="1"/>
<rect x="1037.5" y="445.5" width="4" height="11" fill="#0e0f12" stroke="#2aa583" stroke-width="1"/>
<line x1="1045.5" y1="440" x2="1045.5" y2="598" stroke="#d94545" stroke-width="1"/>
<rect x="1043" y="445" width="5" height="116" fill="#d94545"/>
<line x1="1052.5" y1="543" x2="1052.5" y2="592" stroke="#d94545" stroke-width="1"/>
<rect x="1050" y="560" width="5" height="21" fill="#d94545"/>
<line x1="1058.5" y1="537" x2="1058.5" y2="550" stroke="#2aa583" stroke-width="1"/>
<line x1="1058.5" y1="580" x2="1058.5" y2="590" stroke="#2aa583" stroke-width="1"/>
<rect x="1056.5" y="550.5" width="4" height="29" fill="#0e0f12" stroke="#2aa583" stroke-width="1"/>
<line x1="1065.5" y1="546" x2="1065.5" y2="585" stroke="#d94545" stroke-width="1"/>
<rect x="1063" y="549" width="5" height="15" fill="#d94545"/>
<line x1="1071.5" y1="542" x2="1071.5" y2="599" stroke="#d94545" stroke-width="1"/>
<rect x="1069" y="563" width="5" height="10" fill="#d94545"/>
<line x1="1077.5" y1="538" x2="1077.5" y2="594" stroke="#d94545" stroke-width="1"/>
<rect x="1075" y="572" width="5" height="7" fill="#d94545"/>
<line x1="1084.5" y1="512" x2="1084.5" y2="570" stroke="#2aa583" stroke-width="1"/>
<rect x="1082.5" y="570.5" width="4" height="8" fill="#0e0f12" stroke="#2aa583" stroke-width="1"/>
<line x1="1090.5" y1="543" x2="1090.5" y2="546" stroke="#2aa583" stroke-width="1"/>
<line x1="1090.5" y1="570" x2="1090.5" y2="575" stroke="#2aa583" stroke-width="1"/>
<rect x="1088.5" y="546.5" width="4" height="23" fill="#0e0f12" stroke="#2aa583" stroke-width="1"/>
<line x1="1097.5" y1="540" x2="1097.5" y2="561" stroke="#d94545" stroke-width="1"/>
<rect x="1095" y="546" width="5" height="5" fill="#d94545"/>
<line x1="1103.5" y1="540" x2="1103.5" y2="562" stroke="#d94545" stroke-width="1"/>
<rect x="1101" y="550" width="5" height="9" fill="#d94545"/>
<line x1="1110.5" y1="553" x2="1110.5" y2="575" stroke="#d94545" stroke-width="1"/>
<rect x="1108" y="558" width="5" height="5" fill="#d94545"/>
<line x1="1116.5" y1="553" x2="1116.5" y2="560" stroke="#2aa583" stroke-width="1"/>
<line x1="1116.5" y1="563" x2="1116.5" y2="569" stroke="#2aa583" stroke-width="1"/>
<rect x="1114.5" y="560.5" width="4" height="2" fill="#0e0f12" stroke="#2aa583" stroke-width="1"/>
<line x1="1123.5" y1="555" x2="1123.5" y2="557" stroke="#2aa583" stroke-width="1"/>
<line x1="1123.5" y1="560" x2="1123.5" y2="567" stroke="#2aa583" stroke-width="1"/>
<rect x="1121.5" y="557.5" width="4" height="2" fill="#0e0f12" stroke="#2aa583" stroke-width="1"/>
<line x1="1129.5" y1="542" x2="1129.5" y2="548" stroke="#2aa583" stroke-width="1"/>
<rect x="1127.5" y="548.5" width="4" height="9" fill="#0e0f12" stroke="#2aa583" stroke-width="1"/>
<line x1="1136.5" y1="538" x2="1136.5" y2="561" stroke="#d94545" stroke-width="1"/>
<rect x="1134" y="547" width="5" height="9" fill="#d94545"/>
<line x1="1142.5" y1="550" x2="1142.5" y2="552" stroke="#2aa583" stroke-width="1"/>
<line x1="1142.5" y1="556" x2="1142.5" y2="566" stroke="#2aa583" stroke-width="1"/>
<rect x="1140.5" y="552.5" width="4" height="3" fill="#0e0f12" stroke="#2aa583" stroke-width="1"/>
<line x1="1149.5" y1="548" x2="1149.5" y2="567" stroke="#d94545" stroke-width="1"/>
<rect x="1147" y="552" width="5" height="9" fill="#d94545"/>
<line x1="1155.5" y1="560" x2="1155.5" y2="570" stroke="#2aa583" stroke-width="1"/>
<rect x="1153.5" y="526.5" width="4" height="33" fill="#0e0f12" stroke="#2aa583" stroke-width="1"/>
<line x1="1161.5" y1="506" x2="1161.5" y2="510" stroke="#2aa583" stroke-width="1"/>
<line x1="1161.5" y1="525" x2="1161.5" y2="527" stroke="#2aa583" stroke-width="1"/>
<rect x="1159.5" y="510.5" width="4" height="14" fill="#0e0f12" stroke="#2aa583" stroke-width="1"/>
<line x1="1168.5" y1="405" x2="1168.5" y2="416" stroke="#2aa583" stroke-width="1"/>
<line x1="1168.5" y1="510" x2="1168.5" y2="512" stroke="#2aa583" stroke-width="1"/>
<rect x="1166.5" y="416.5" width="4" height="93" fill="#0e0f12" stroke="#2aa583" stroke-width="1"/>
<line x1="1174.5" y1="407" x2="1174.5" y2="446" stroke="#d94545" stroke-width="1"/>
<rect x="1172" y="415" width="5" height="15" fill="#d94545"/>
<line x1="1181.5" y1="428" x2="1181.5" y2="447" stroke="#d94545" stroke-width="1"/>
<rect x="1179" y="429" width="5" height="1" fill="#d94545"/>
<line x1="1187.5" y1="401" x2="1187.5" y2="418" stroke="#2aa583" stroke-width="1"/>
<rect x="1185.5" y="418.5" width="4" height="11" fill="#0e0f12" stroke="#2aa583" stroke-width="1"/>
<line x1="1194.5" y1="307" x2="1194.5" y2="330" stroke="#2aa583" stroke-width="1"/>
<line x1="1194.5" y1="418" x2="1194.5" y2="429" stroke="#2aa583" stroke-width="1"/>
<rect x="1192.5" y="330.5" width="4" height="87" fill="#0e0f12" stroke="#2aa583" stroke-width="1"/>
<line x1="1200.5" y1="299" x2="1200.5" y2="306" stroke="#2aa583" stroke-width="1"/>
<line x1="1200.5" y1="330" x2="1200.5" y2="348" stroke="#2aa583" stroke-width="1"/>
<rect x="1198.5" y="306.5" width="4" height="23" fill="#0e0f12" stroke="#2aa583" stroke-width="1"/>
<line x1="1207.5" y1="298" x2="1207.5" y2="304" stroke="#2aa583" stroke-width="1"/>
<line x1="1207.5" y1="306" x2="1207.5" y2="319" stroke="#2aa583" stroke-width="1"/>
<rect x="1205" y="304" width="5" height="2" fill="#2aa583"/>
<line x1="1213.5" y1="275" x2="1213.5" y2="300" stroke="#2aa583" stroke-width="1"/>
<line x1="1213.5" y1="305" x2="1213.5" y2="318" stroke="#2aa583" stroke-width="1"/>
<rect x="1211.5" y="300.5" width="4" height="4" fill="#0e0f12" stroke="#2aa583" stroke-width="1"/>
<line x1="1220.5" y1="300" x2="1220.5" y2="341" stroke="#d94545" stroke-width="1"/>
<rect x="1218" y="300" width="5" height="36" fill="#d94545"/>
<line x1="1226.5" y1="332" x2="1226.5" y2="389" stroke="#d94545" stroke-width="1"/>
<rect x="1224" y="335" width="5" height="35" fill="#d94545"/>
<line x1="1232.5" y1="337" x2="1232.5" y2="366" stroke="#2aa583" stroke-width="1"/>
<line x1="1232.5" y1="370" x2="1232.5" y2="379" stroke="#2aa583" stroke-width="1"/>
<rect x="1230.5" y="366.5" width="4" height="3" fill="#0e0f12" stroke="#2aa583" stroke-width="1"/>
<line x1="1239.5" y1="290" x2="1239.5" y2="301" stroke="#2aa583" stroke-width="1"/>
<line x1="1239.5" y1="366" x2="1239.5" y2="382" stroke="#2aa583" stroke-width="1"/>
<rect x="1237.5" y="301.5" width="4" height="64" fill="#0e0f12" stroke="#2aa583" stroke-width="1"/>
<line x1="1245.5" y1="280" x2="1245.5" y2="332" stroke="#d94545" stroke-width="1"/>
<rect x="1243" y="301" width="5" height="18" fill="#d94545"/>
<line x1="1252.5" y1="291" x2="1252.5" y2="310" stroke="#2aa583" stroke-width="1"/>
<line x1="1252.5" y1="319" x2="1252.5" y2="322" stroke="#2aa583" stroke-width="1"/>
<rect x="1250.5" y="310.5" width="4" height="8" fill="#0e0f12" stroke="#2aa583" stroke-width="1"/>
<line x1="1258.5" y1="282" x2="1258.5" y2="291" stroke="#2aa583" stroke-width="1"/>
<line x1="1258.5" y1="310" x2="1258.5" y2="312" stroke="#2aa583" stroke-width="1"/>
<rect x="1256.5" y="291.5" width="4" height="18" fill="#0e0f12" stroke="#2aa583" stroke-width="1"/>
</g>
<g shape-rendering="crispEdges">
<rect x="-1.5" y="762.5" width="4" height="20" fill="none" stroke="#d94545" stroke-width="1"/>
<rect x="4.5" y="762.5" width="4" height="23" fill="none" stroke="#d94545" stroke-width="1"/>
<rect x="10" y="762" width="5" height="24" fill="#d94545"/>
<rect x="17" y="762" width="5" height="21" fill="#d94545"/>
<rect x="23" y="762" width="5" height="18" fill="#d94545"/>
<rect x="30" y="762" width="5" height="13" fill="#d94545"/>
<rect x="36" y="762" width="5" height="10" fill="#d94545"/>
<rect x="42" y="762" width="5" height="7" fill="#d94545"/>
<rect x="49" y="762" width="5" height="2" fill="#d94545"/>
<rect x="55" y="760" width="5" height="2" fill="#2aa583"/>
<rect x="62" y="760" width="5" height="2" fill="#2aa583"/>
<rect x="68" y="760" width="5" height="2" fill="#2aa583"/>
<rect x="75.5" y="757.5" width="4" height="4" fill="none" stroke="#2aa583" stroke-width="1"/>
<rect x="81" y="759" width="5" height="3" fill="#2aa583"/>
<rect x="88" y="760" width="5" height="2" fill="#2aa583"/>
<rect x="94.5" y="755.5" width="4" height="6" fill="none" stroke="#2aa583" stroke-width="1"/>
<rect x="101.5" y="754.5" width="4" height="7" fill="none" stroke="#2aa583" stroke-width="1"/>
<rect x="107.5" y="754.5" width="4" height="7" fill="none" stroke="#2aa583" stroke-width="1"/>
<rect x="113.5" y="751.5" width="4" height="10" fill="none" stroke="#2aa583" stroke-width="1"/>
<rect x="120.5" y="750.5" width="4" height="11" fill="none" stroke="#2aa583" stroke-width="1"/>
<rect x="126.5" y="745.5" width="4" height="16" fill="none" stroke="#2aa583" stroke-width="1"/>
<rect x="133.5" y="743.5" width="4" height="18" fill="none" stroke="#2aa583" stroke-width="1"/>
<rect x="139" y="744" width="5" height="18" fill="#2aa583"/>
<rect x="146.5" y="741.5" width="4" height="20" fill="none" stroke="#2aa583" stroke-width="1"/>
<rect x="152.5" y="740.5" width="4" height="21" fill="none" stroke="#2aa583" stroke-width="1"/>
<rect x="159.5" y="739.5" width="4" height="22" fill="none" stroke="#2aa583" stroke-width="1"/>
<rect x="165" y="740" width="5" height="22" fill="#2aa583"/>
<rect x="172" y="742" width="5" height="20" fill="#2aa583"/>
<rect x="178" y="742" width="5" height="20" fill="#2aa583"/>
<rect x="184.5" y="741.5" width="4" height="20" fill="none" stroke="#2aa583" stroke-width="1"/>
<rect x="191" y="741" width="5" height="21" fill="#2aa583"/>
<rect x="197" y="745" width="5" height="17" fill="#2aa583"/>
<rect x="204" y="750" width="5" height="12" fill="#2aa583"/>
<rect x="210" y="757" width="5" height="5" fill="#2aa583"/>
<rect x="217" y="760" width="5" height="2" fill="#2aa583"/>
<rect x="223.5" y="762.5" width="4" height="6" fill="none" stroke="#d94545" stroke-width="1"/>
<rect x="230.5" y="762.5" width="4" height="10" fill="none" stroke="#d94545" stroke-width="1"/>
<rect x="236" y="762" width="5" height="9" fill="#d94545"/>
<rect x="243" y="762" width="5" height="5" fill="#d94545"/>
<rect x="249.5" y="757.5" width="4" height="4" fill="none" stroke="#2aa583" stroke-width="1"/>
<rect x="256.5" y="754.5" width="4" height="7" fill="none" stroke="#2aa583" stroke-width="1"/>
<rect x="262" y="760" width="5" height="2" fill="#2aa583"/>
<rect x="268" y="760" width="5" height="2" fill="#2aa583"/>
<rect x="275.5" y="762.5" width="4" height="2" fill="none" stroke="#d94545" stroke-width="1"/>
<rect x="281.5" y="762.5" width="4" height="3" fill="none" stroke="#d94545" stroke-width="1"/>
<rect x="288.5" y="762.5" width="4" height="5" fill="none" stroke="#d94545" stroke-width="1"/>
<rect x="294.5" y="762.5" width="4" height="6" fill="none" stroke="#d94545" stroke-width="1"/>
<rect x="301.5" y="762.5" width="4" height="9" fill="none" stroke="#d94545" stroke-width="1"/>
<rect x="307.5" y="762.5" width="4" height="11" fill="none" stroke="#d94545" stroke-width="1"/>
<rect x="314.5" y="762.5" width="4" height="12" fill="none" stroke="#d94545" stroke-width="1"/>
<rect x="320" y="762" width="5" height="11" fill="#d94545"/>
<rect x="327" y="762" width="5" height="8" fill="#d94545"/>
<rect x="333" y="762" width="5" height="4" fill="#d94545"/>
<rect x="339" y="762" width="5" height="2" fill="#d94545"/>
<rect x="346" y="761" width="5" height="1" fill="#2aa583"/>
<rect x="352" y="760" width="5" height="2" fill="#2aa583"/>
<rect x="359" y="760" width="5" height="2" fill="#2aa583"/>
<rect x="365" y="760" width="5" height="2" fill="#2aa583"/>
<rect x="372.5" y="758.5" width="4" height="3" fill="none" stroke="#2aa583" stroke-width="1"/>
<rect x="378.5" y="754.5" width="4" height="7" fill="none" stroke="#2aa583" stroke-width="1"/>
<rect x="385" y="753" width="5" height="9" fill="#2aa583"/>
<rect x="391" y="755" width="5" height="7" fill="#2aa583"/>
<rect x="398" y="758" width="5" height="4" fill="#2aa583"/>
<rect x="404.5" y="754.5" width="4" height="7" fill="none" stroke="#2aa583" stroke-width="1"/>
<rect x="410" y="754" width="5" height="8" fill="#2aa583"/>
<rect x="417" y="760" width="5" height="2" fill="#2aa583"/>
<rect x="423.5" y="762.5" width="4" height="3" fill="none" stroke="#d94545" stroke-width="1"/>
<rect x="430.5" y="762.5" width="4" height="4" fill="none" stroke="#d94545" stroke-width="1"/>
<rect x="436.5" y="762.5" width="4" height="5" fill="none" stroke="#d94545" stroke-width="1"/>
<rect x="443" y="762" width="5" height="2" fill="#d94545"/>
<rect x="449" y="760" width="5" height="2" fill="#2aa583"/>
<rect x="456.5" y="755.5" width="4" height="6" fill="none" stroke="#2aa583" stroke-width="1"/>
<rect x="462.5" y="752.5" width="4" height="9" fill="none" stroke="#2aa583" stroke-width="1"/>
<rect x="469.5" y="751.5" width="4" height="10" fill="none" stroke="#2aa583" stroke-width="1"/>
<rect x="475.5" y="747.5" width="4" height="14" fill="none" stroke="#2aa583" stroke-width="1"/>
<rect x="481" y="748" width="5" height="14" fill="#2aa583"/>
<rect x="488" y="750" width="5" height="12" fill="#2aa583"/>
<rect x="494" y="751" width="5" height="11" fill="#2aa583"/>
<rect x="501" y="752" width="5" height="10" fill="#2aa583"/>
<rect x="507.5" y="749.5" width="4" height="12" fill="none" stroke="#2aa583" stroke-width="1"/>
<rect x="514" y="750" width="5" height="12" fill="#2aa583"/>
<rect x="520" y="751" width="5" height="11" fill="#2aa583"/>
<rect x="527" y="754" width="5" height="8" fill="#2aa583"/>
<rect x="533" y="756" width="5" height="6" fill="#2aa583"/>
<rect x="540.5" y="752.5" width="4" height="9" fill="none" stroke="#2aa583" stroke-width="1"/>
<rect x="546" y="753" width="5" height="9" fill="#2aa583"/>
<rect x="553" y="755" width="5" height="7" fill="#2aa583"/>
<rect x="559" y="758" width="5" height="4" fill="#2aa583"/>
<rect x="565" y="759" width="5" height="3" fill="#2aa583"/>
<rect x="572" y="761" width="5" height="1" fill="#2aa583"/>
<rect x="578.5" y="762.5" width="4" height="2" fill="none" stroke="#d94545" stroke-width="1"/>
<rect x="585.5" y="762.5" width="4" height="3" fill="none" stroke="#d94545" stroke-width="1"/>
<rect x="591.5" y="762.5" width="4" height="6" fill="none" stroke="#d94545" stroke-width="1"/>
<rect x="598.5" y="762.5" width="4" height="7" fill="none" stroke="#d94545" stroke-width="1"/>
<rect x="604.5" y="762.5" width="4" height="8" fill="none" stroke="#d94545" stroke-width="1"/>
<rect x="611.5" y="762.5" width="4" height="11" fill="none" stroke="#d94545" stroke-width="1"/>
<rect x="617.5" y="762.5" width="4" height="11" fill="none" stroke="#d94545" stroke-width="1"/>
<rect x="624.5" y="762.5" width="4" height="11" fill="none" stroke="#d94545" stroke-width="1"/>
<rect x="630.5" y="762.5" width="4" height="13" fill="none" stroke="#d94545" stroke-width="1"/>
<rect x="636" y="762" width="5" height="12" fill="#d94545"/>
<rect x="643.5" y="762.5" width="4" height="13" fill="none" stroke="#d94545" stroke-width="1"/>
<rect x="649.5" y="762.5" width="4" height="14" fill="none" stroke="#d94545" stroke-width="1"/>
<rect x="656" y="762" width="5" height="14" fill="#d94545"/>
<rect x="662" y="762" width="5" height="13" fill="#d94545"/>
<rect x="669" y="762" width="5" height="12" fill="#d94545"/>
<rect x="675" y="762" width="5" height="9" fill="#d94545"/>
<rect x="682.5" y="762.5" width="4" height="8" fill="none" stroke="#d94545" stroke-width="1"/>
<rect x="688" y="762" width="5" height="6" fill="#d94545"/>
<rect x="695" y="760" width="5" height="2" fill="#2aa583"/>
<rect x="701.5" y="759.5" width="4" height="2" fill="none" stroke="#2aa583" stroke-width="1"/>
<rect x="707" y="759" width="5" height="3" fill="#2aa583"/>
<rect x="714.5" y="756.5" width="4" height="5" fill="none" stroke="#2aa583" stroke-width="1"/>
<rect x="720" y="759" width="5" height="3" fill="#2aa583"/>
<rect x="727" y="762" width="5" height="1" fill="#d94545"/>
<rect x="733.5" y="762.5" width="4" height="4" fill="none" stroke="#d94545" stroke-width="1"/>
<rect x="740" y="762" width="5" height="4" fill="#d94545"/>
<rect x="746.5" y="759.5" width="4" height="2" fill="none" stroke="#2aa583" stroke-width="1"/>
<rect x="753.5" y="759.5" width="4" height="2" fill="none" stroke="#2aa583" stroke-width="1"/>
<rect x="759.5" y="759.5" width="4" height="2" fill="none" stroke="#2aa583" stroke-width="1"/>
<rect x="766.5" y="758.5" width="4" height="3" fill="none" stroke="#2aa583" stroke-width="1"/>
<rect x="772" y="757" width="5" height="5" fill="#2aa583"/>
<rect x="778" y="759" width="5" height="3" fill="#2aa583"/>
<rect x="785" y="760" width="5" height="2" fill="#2aa583"/>
<rect x="791" y="762" width="5" height="2" fill="#d94545"/>
<rect x="798.5" y="762.5" width="4" height="5" fill="none" stroke="#d94545" stroke-width="1"/>
<rect x="804.5" y="762.5" width="4" height="9" fill="none" stroke="#d94545" stroke-width="1"/>
<rect x="811.5" y="762.5" width="4" height="15" fill="none" stroke="#d94545" stroke-width="1"/>
<rect x="817.5" y="762.5" width="4" height="16" fill="none" stroke="#d94545" stroke-width="1"/>
<rect x="824.5" y="762.5" width="4" height="16" fill="none" stroke="#d94545" stroke-width="1"/>
<rect x="830" y="762" width="5" height="15" fill="#d94545"/>
<rect x="837" y="762" width="5" height="13" fill="#d94545"/>
<rect x="843" y="762" width="5" height="11" fill="#d94545"/>
<rect x="850" y="762" width="5" height="11" fill="#d94545"/>
<rect x="856" y="762" width="5" height="10" fill="#d94545"/>
<rect x="862" y="762" width="5" height="9" fill="#d94545"/>
<rect x="869" y="762" width="5" height="7" fill="#d94545"/>
<rect x="875" y="762" width="5" height="7" fill="#d94545"/>
<rect x="882" y="762" width="5" height="7" fill="#d94545"/>
<rect x="888" y="762" width="5" height="6" fill="#d94545"/>
<rect x="895.5" y="762.5" width="4" height="6" fill="none" stroke="#d94545" stroke-width="1"/>
<rect x="901.5" y="762.5" width="4" height="7" fill="none" stroke="#d94545" stroke-width="1"/>
<rect x="908.5" y="762.5" width="4" height="17" fill="none" stroke="#d94545" stroke-width="1"/>
<rect x="914.5" y="762.5" width="4" height="22" fill="none" stroke="#d94545" stroke-width="1"/>
<rect x="921.5" y="762.5" width="4" height="23" fill="none" stroke="#d94545" stroke-width="1"/>
<rect x="927.5" y="762.5" width="4" height="25" fill="none" stroke="#d94545" stroke-width="1"/>
<rect x="933" y="762" width="5" height="24" fill="#d94545"/>
<rect x="940" y="762" width="5" height="21" fill="#d94545"/>
<rect x="946" y="762" width="5" height="16" fill="#d94545"/>
<rect x="953" y="762" width="5" height="12" fill="#d94545"/>
<rect x="959" y="762" width="5" height="9" fill="#d94545"/>
<rect x="966.5" y="762.5" width="4" height="10" fill="none" stroke="#d94545" stroke-width="1"/>
<rect x="972" y="762" width="5" height="10" fill="#d94545"/>
<rect x="979" y="762" width="5" height="10" fill="#d94545"/>
<rect x="985" y="762" width="5" height="5" fill="#d94545"/>
<rect x="992" y="760" width="5" height="2" fill="#2aa583"/>
<rect x="998.5" y="755.5" width="4" height="6" fill="none" stroke="#2aa583" stroke-width="1"/>
<rect x="1004.5" y="751.5" width="4" height="10" fill="none" stroke="#2aa583" stroke-width="1"/>
<rect x="1011.5" y="750.5" width="4" height="11" fill="none" stroke="#2aa583" stroke-width="1"/>
<rect x="1017" y="752" width="5" height="10" fill="#2aa583"/>
<rect x="1024" y="757" width="5" height="5" fill="#2aa583"/>
<rect x="1030" y="760" width="5" height="2" fill="#2aa583"/>
<rect x="1037" y="762" width="5" height="2" fill="#d94545"/>
<rect x="1043.5" y="762.5" width="4" height="10" fill="none" stroke="#d94545" stroke-width="1"/>
<rect x="1050.5" y="762.5" width="4" height="17" fill="none" stroke="#d94545" stroke-width="1"/>
<rect x="1056.5" y="762.5" width="4" height="17" fill="none" stroke="#d94545" stroke-width="1"/>
<rect x="1063" y="762" width="5" height="18" fill="#d94545"/>
<rect x="1069" y="762" width="5" height="18" fill="#d94545"/>
<rect x="1075" y="762" width="5" height="16" fill="#d94545"/>
<rect x="1082" y="762" width="5" height="13" fill="#d94545"/>
<rect x="1088" y="762" width="5" height="8" fill="#d94545"/>
<rect x="1095" y="762" width="5" height="4" fill="#d94545"/>
<rect x="1101" y="762" width="5" height="2" fill="#d94545"/>
<rect x="1108" y="760" width="5" height="2" fill="#2aa583"/>
<rect x="1114.5" y="759.5" width="4" height="2" fill="none" stroke="#2aa583" stroke-width="1"/>
<rect x="1121.5" y="758.5" width="4" height="3" fill="none" stroke="#2aa583" stroke-width="1"/>
<rect x="1127.5" y="754.5" width="4" height="7" fill="none" stroke="#2aa583" stroke-width="1"/>
<rect x="1134.5" y="753.5" width="4" height="8" fill="none" stroke="#2aa583" stroke-width="1"/>
<rect x="1140.5" y="752.5" width="4" height="9" fill="none" stroke="#2aa583" stroke-width="1"/>
<rect x="1147.5" y="752.5" width="4" height="9" fill="none" stroke="#2aa583" stroke-width="1"/>
<rect x="1153.5" y="750.5" width="4" height="11" fill="none" stroke="#2aa583" stroke-width="1"/>
<rect x="1159.5" y="748.5" width="4" height="13" fill="none" stroke="#2aa583" stroke-width="1"/>
<rect x="1166.5" y="738.5" width="4" height="23" fill="none" stroke="#2aa583" stroke-width="1"/>
<rect x="1172.5" y="735.5" width="4" height="26" fill="none" stroke="#2aa583" stroke-width="1"/>
<rect x="1179.5" y="734.5" width="4" height="27" fill="none" stroke="#2aa583" stroke-width="1"/>
<rect x="1185.5" y="732.5" width="4" height="29" fill="none" stroke="#2aa583" stroke-width="1"/>
<rect x="1192.5" y="727.5" width="4" height="34" fill="none" stroke="#2aa583" stroke-width="1"/>
<rect x="1198.5" y="723.5" width="4" height="38" fill="none" stroke="#2aa583" stroke-width="1"/>
<rect x="1205.5" y="722.5" width="4" height="39" fill="none" stroke="#2aa583" stroke-width="1"/>
<rect x="1211" y="723" width="5" height="39" fill="#2aa583"/>
<rect x="1218" y="729" width="5" height="33" fill="#2aa583"/>
<rect x="1224" y="738" width="5" height="24" fill="#2aa583"/>
<rect x="1230" y="744" width="5" height="18" fill="#2aa583"/>
<rect x="1237" y="745" width="5" height="17" fill="#2aa583"/>
<rect x="1243" y="747" width="5" height="15" fill="#2aa583"/>
<rect x="1250" y="749" width="5" height="13" fill="#2aa583"/>
<rect x="1256" y="750" width="5" height="12" fill="#2aa583"/>
</g>
<polyline points="0,502 7,530 17,567 27,595 33,605 45,600 58,590 72,590 78,590.7 92,601 103,600 123,590.7 133,568.3 142,553.3 150,531 160,512 167,498.3 177,486 190,458.3 201,447 208,447 220,454 230,475 240,494.7 246,499.3 253,484.3 262,466.7 275,455.7 284,448.3 292,453.3 300,473.3 310,488.3 320,497.7 330,501.7 343,493.3 355,483.3 367,463 380,444 390,441.3 400.8,432.5 414.7,409.2 426.7,426.7 440,433.3 452.5,434.7 460,423.3 463.3,411.7 470,393.3 476.7,370 487,348.3 497,320 503,314 510,300 520,290 530,282 537,272.7 543,255 550,242 560,236.7 570,228.3 581,218 590,222.7 600,226 608,226 620,232 633,238.7 640,238 653,250.7 670,250 680,248.3 686,253.7 693,243.3 703,226.7 717,204 730,192.7 743,197 757,186.7 763,186.7 777,163.3 787,151.7 800,160 810,177.3 820,198.3 830,215 843,228.3 853,233.3 862,230 867,230 873,226.7 887,231.7 900,238.3 907,251.7 917,286.7 927,320 937,353.3 950,391 960,387.3 970,395.7 982,403.3 990,401.7 1003,397.7 1013,385 1020,380 1027,380 1040,400 1047,430 1057,470 1067,510 1077,543.3 1085,566.7 1097,562 1107,563.3 1117,563.3 1127,558.3 1133,554.7 1140,556.7 1150,556.7 1157,551.7 1163,543.3 1173,516.7 1183,485 1190,463.3 1197,430 1200,411.7 1207,378.3 1217,355 1227,338.3 1233,330 1240,326.7 1250,328 1259,327" fill="none" stroke="#c8c8c8" stroke-width="1.1" stroke-linejoin="round"/>
<polyline points="0,457 10,475 20,493.3 33,526 50,561.7 65,587.3 78,595 92,600 105,593.3 123,590 133,581.7 143,575 153,561 167,541 180,518.3 195,490 207,475 215,471 228,472.7 240,475 250,471 262,461 275,461.7 285,470 297,477 310,480.7 323,476 335,474.3 350,484 360,485.7 372,480.7 385,468.3 400,456.7 407,446.7 415,438.3 433,437.5 440,435 452,427 460,415 472,406.7 480,395 490,381.7 500,372.5 505,366.7 513,347.5 527,313.3 543,287.3 560,265 577,247 593,234 607,230.7 617,228.3 627,227 633,231 643,232 657,238.7 667,242 677,244.3 690,246 700,240 713,229.3 723,223.3 733,223.3 743,216.7 753,205 767,190 780,175.7 787,174 800,173.3 810,180 820,183 830,185.7 840,192 857,205 873,218.3 890,230 903,236.7 918,258.3 930,278.3 940,300 957,326.7 967,343.3 980,376.7 993,397.7 1007,391.7 1020,388.3 1030,393.3 1040,402.3 1050,425 1063,443.3 1073,458.3 1083,480 1097,508.3 1107,530 1117,545 1130,560 1137,561.7 1147,560 1157,556.7 1167,546.7 1177,531.7 1190,513.3 1200,486.7 1210,456.7 1220,430 1226.7,418.3 1233,400 1240,386 1250,362 1259.5,343.3" fill="none" stroke="#e8e032" stroke-width="1.1" stroke-linejoin="round"/>
<polyline points="0,459.3 10,475 22,487.7 38,497.3 50,500 70,509 85,519.3 103,531.7 123,546 140,557.3 155,565 168,567.3 180,563.3 195,551.7 210,539 225,530.7 245,522.7 265,507.7 280,497.3 295,485.7 310,479.3 325,475.7 340,473.3 360,472.7 380,471 390,471.3 400,469.2 410,463.3 425,457.5 440,455.8 453,455.5 465,448.3 480,437.5 493,425 507,408.3 520,390 533,371.7 545,358.3 555,346.7 567,331.3 583,315 597,300 610,287.7 625,275 643,261.7 660,256 680,250.7 700,242.7 720,230 733,225 747,222.3 767,215 787,209.3 803,206.7 820,205 840,203.3 857,200.7 880,199.3 893,203.3 903,208.3 913,218.3 930,233.3 957,263.3 973,283.3 990,306.7 1003,316 1023,331.5 1040,351.7 1057,381.7 1073,410 1080,420 1097,446.7 1113,463.3 1133,480 1150,493.3 1160,498.3 1167,499.3 1175,498.3 1183,500 1193,501.3 1207,498.3 1220,493.3 1233,486 1247,470 1253,461.7 1259,451.7" fill="none" stroke="#d23aa8" stroke-width="1.1" stroke-linejoin="round"/>
<polyline points="0,386 33,408.3 65,430 105,450.7 125,468.7 150,486.7 170,498.3 190,506.7 210,511.7 233,514.7 250,512 267,507.3 290,508 310,511.3 335,517 362,520.3 375,517.3 395,507 415,497.3 442,488 460,477 480,464.5 500,450.5 520,437 540,423 560,408.5 570,403 585,396 600,387 620,369.5 640,359 647,356.5 660,350 675,341 690,331.3 713,312.3 743,292 770,272.7 787,260 810,247.3 837,234.3 840,231.7 857,227 873,222 890,219.3 903,220.3 923,227.3 957,240 990,256 1007,261 1023,266.7 1040,276.7 1057,291.7 1073,303.3 1107,330 1130,353.3 1157,382 1173,395 1190,406.7 1207,410.7 1223,415.7 1240,420 1259,423.3" fill="none" stroke="#2598d2" stroke-width="1.1" stroke-linejoin="round"/>
<polyline points="0,314.7 27,339 55,358.3 100,396.7 123,413.3 154,429 180,438.7 205,441.7 240,453 271,457.3 287,460.3 310,470 335,480 362,489.3 385,494.3 400,496 420,494.7 442,492.5 460,488 490,482.5 520,474.2 540,468.3 560,460.5 575,452.5 590,443 605,434.5 620,425.5 640,412.5 660,400.8 680,388 700,374.5 720,362 737,354 760,342.5 785,330 827,310 840,306.7 873,292.7 907,279.7 923,276 957,272 990,272 1007,269.7 1023,267.7 1040,268.7 1057,275 1090,287.7 1107,295 1123,304 1140,315 1157,326.7 1173,334.7 1190,340.7 1207,343 1223,345.7 1240,348 1259,349.7" fill="none" stroke="#a5d36e" stroke-width="1.1" stroke-linejoin="round"/>
<polyline points="0,240 38.7,262 72,291.7 123,326.7 154,345.7 180,366.7 205,376 240,394.7 271,408 300,421.3 333,434 366,445 390,448.3 415,451 440,455 452,456 465,455 490,453.7 510,455.5 537,455.3 557,454.3 573,452.8 590,450 610,445.5 620,444.5 635,438.8 655,430.5 680,424 700,418 720,412 737,407 750,402.5 765,394.8 780,387 795,377 810,370 825,362.5 840,355.5 860,346.3 873,342 890,334.7 907,328.3 923,324.7 957,321.7 990,320.7 1007,317.7 1020,315 1040,316 1073,318.7 1107,321.7 1140,325.3 1173,328.3 1190,329.3 1207,326 1223,323.3 1240,322.3 1259,323" fill="none" stroke="#ea8585" stroke-width="1.1" stroke-linejoin="round"/>
<polyline points="0,230.3 38.7,246 100,269.3 154,287.7 166,291 200,296 240,300.7 271,302.7 333,310.7 387.7,317 420,321.3 453,327.3 503,333.3 553,337.7 560,338 580,343 595,345 610,347 630,350.5 647,353.3 665,357.5 675,359.5 685,363 700,366.3 715,367 735,369.5 795,369.5 810,371 822,372.5 833,373.5 840,372.5 900,372 915,371.3 957,373 1007,375.7 1040,381 1073,389.3 1107,393.3 1130,396 1173,396.3 1207,393.7 1223,392.3 1240,391.7 1259,390.3" fill="none" stroke="#14d2dc" stroke-width="1.1" stroke-linejoin="round"/>
<polyline points="355.7,241.3 387.7,241.5 410,243.3 420,245 453,250 503,255 553,259 603,261.7 653,265 703,268.3 753,270 803,271.7 840,273 873,276 907,279.7 957,284.7 1007,291 1057,298.7 1090,304.7 1123,311.3 1157,317.7 1190,321.3 1207,322.3 1240,323 1259,322.7" fill="none" stroke="#e8690c" stroke-width="1.1" stroke-linejoin="round"/>
<polyline points="0,787 7,791 13,794 20,795.3 33,795.3 45,793 58,790.3 70,789 78,787.5 90,788 100,784 110,782 123,777.3 135,770 143,767 155,760 167,755.3 180,751.3 187,748.3 195,744.3 205,744.7 213,748 221,750 227,755 233,757.3 240,757.3 247,756.3 253,751 259,748.3 265,750.3 272,751 278,753.3 288,755.3 298,757.3 307,760.8 315,763 323,763.3 332,763 340,760.8 348,759.7 357,759.3 365,758.3 373,756 381,753.3 388,751.7 395,751 402,752.3 408,749.7 413,748.3 417,750 423,753.3 430,755 440,756.7 447,755 453,753.3 463,748 472,744 478,740.8 488,739 497,738.3 503,737.3 510,734.7 517,732.5 523,732.3 537,732.3 543,729.7 550,728.3 560,728.3 567,729.7 580,731.7 590,733.3 603,736.7 613,740.8 623,743.3 633,746.3 640,746.3 645,749 652,751.7 665,754 673,754.7 680,753.7 690,754.7 697,751.7 703,749.7 710,749 717,746.3 723,747 730,749.7 737,751.3 743,751 750,748.3 757,747.3 763,747 770,745 775,744.5 783,745.3 790,746.7 797,748.7 803,751.7 810,756 815,759 823,761.7 832,763.3 845,763.7 855,764.7 860,765 870,766.7 880,767 890,767 897,768.3 903,771 910,778.3 917,782.5 923,785.8 930,790 937,791.7 943,793.3 950,792.3 957,791.3 963,791.3 970,793 977,794.3 983,794.3 990,792 997,788.7 1003,785 1010,781.7 1015,780.3 1022,780.3 1028,782.5 1035,784.7 1040,785.8 1047,791.7 1053,796.7 1062,800.8 1072,803 1078,803.5 1085,804.7 1095,801.7 1107,798.7 1117,797.3 1130,793.3 1142,789.7 1150,788 1158,784.7 1162,782.5 1168,775 1175,769.3 1182,764.7 1188,761 1195,753.3 1202,746.3 1208,741 1215,737.3 1220,735.7 1227,736 1233,737.3 1240,735.3 1247,735 1253,734 1259,733.3" fill="none" stroke="#c8c8c8" stroke-width="1.1" stroke-linejoin="round"/>
<polyline points="0,777.7 13,783 25,787.5 38,790.3 58,791 78,790.7 92,789 105,787.3 118,785 130,781.7 138,778.3 150,774.3 160,770 170,766 178,763.3 188,759 198,755.3 207,752.7 213,750.3 221,750 227,752 240,753.7 247,754.7 255,753 265,752 272,751.3 282,752.3 292,753.7 302,755 310,756.7 320,758.3 330,759.7 337,760.7 348,760 360,759.7 370,758.7 378,757.3 387,756 397,754.7 405,753.7 412,752.5 420,752.5 428,753.3 436,753.7 440,755 453,754.3 463,752.3 473,750 483,746.3 493,743.3 503,741.3 513,738.3 523,736.3 537,734 547,732.3 557,731 567,730.7 580,731.3 590,732 603,733.7 613,735.3 623,737.3 633,739.3 643,742 655,745 665,747.7 675,750 685,751.3 695,751.3 707,750.7 717,750 725,749.3 733,750 743,750.3 750,749.3 763,749 775,747.3 790,747 803,747 812,749.3 823,752.3 833,755.7 845,758.3 855,760.3 860,761.7 870,763.7 880,764.3 890,765 900,766 910,769.3 920,774.3 930,779.3 940,783.3 948,785.8 960,787.7 970,789 980,790.3 988,791.7 1000,790.3 1010,788.3 1020,785.3 1030,784.7 1040,784.3 1050,787.3 1060,790.3 1070,793.7 1078,796.3 1085,798 1095,798.7 1107,799.3 1117,799 1130,797.3 1142,794.3 1150,792.7 1158,790.3 1168,786.3 1178,781 1188,775 1198,769 1208,762 1215,757.7 1222,753 1228,750.3 1237,747 1245,743 1253,741 1259,739.3" fill="none" stroke="#e8e032" stroke-width="1.1" stroke-linejoin="round"/>
<g stroke="#eceef2" stroke-width="1.1" fill="none"><path d="M764.8 116H771.8M769 113.2L771.8 116L769 118.8"/><path d="M108.6 669.2H101.6M104.4 666.4L101.6 669.2L104.4 672"/></g>
<line x1="916.5" y1="68" x2="916.5" y2="808" stroke="#9aa0ae" stroke-width="1" stroke-dasharray="4 6" shape-rendering="crispEdges"/>
<line x1="1" y1="522.5" x2="1326" y2="522.5" stroke="#9aa0ae" stroke-width="1" stroke-dasharray="4 6" shape-rendering="crispEdges"/>
</svg>
<div class="tb1">
<span class="t b" style="left:-11.8px;color:#e8a070">美</span>
<span class="t b" style="left:35px;color:#e6e8ee;">多窗</span>
<span class="t b" style="left:96.5px;color:#e6e8ee;">复盘</span>
<span class="t" style="left:182.5px;">周期</span>
<span class="t" style="left:240.3px;">15分</span>
<span class="t" style="left:280.3px;">1时</span>
<span class="t" style="left:313px;color:#2483f0;">4时</span>
<span class="t" style="left:345.3px;">8时</span>
<span class="t" style="left:378.7px;">1日</span>
<span class="t" style="left:410.6px;">1秒</span>
<span class="t" style="left:442.9px;">30秒</span>
<span class="t" style="left:482.7px;">分时</span>
<span class="t" style="left:521px;">1分</span>
<span class="t" style="left:552.8px;">5分</span>
<span class="t" style="left:585.6px;">10分</span>
<span class="t" style="left:625.7px;">30分</span>
<span class="t" style="left:665px;">2时</span>
<span class="t" style="left:697.7px;">3时</span>
<span class="t" style="left:730.6px;">12时</span>
<span class="t" style="left:770px;">2日</span>
<span class="t" style="left:802.5px;">3日</span>
<span class="t" style="left:834.5px;">周K</span>
<span class="t" style="left:869.3px;">15日</span>
<span class="t" style="left:908.7px;">月K</span>
<span class="t" style="left:942.5px;">季K</span>
<span class="t" style="left:976px;">年K</span>
<span class="t" style="left:1276.3px;color:#b0b4bd;">0s</span>
</div>
<span class="t" style="font-size:16.5px;top:43px;left:131.8px;color:#d4a72c">主</span>
<span class="t" style="font-size:16.5px;top:43px;left:163.8px;color:#d8b458">大</span>
<span class="t" style="font-size:16.5px;top:43px;left:195.8px;color:#e0a820">筹</span>
<div class="r1">
<span class="t gy" style="left:-0.8px">2025-09-22 16:00</span>
<span class="t gy" style="left:99px">开</span>
<span class="t gr" style="left:114.3px">112454.5</span>
<span class="t gy" style="left:170px">高</span>
<span class="t gr" style="left:185.2px">112927.0</span>
<span class="t gy" style="left:241px">低</span>
<span class="t gr" style="left:256.8px">112119.0</span>
<span class="t gy" style="left:313px">收</span>
<span class="t gr" style="left:328px">112814.1</span>
<span class="t gy" style="left:384px">涨幅</span>
<span class="t gr n" style="left:410.5px">0.32%(359.7)</span>
<span class="t gy" style="left:487px">振幅</span>
<span class="t gr n" style="left:513.5px">0.72%</span>
</div>
<div class="r2">
<span class="t b" style="left:-45.8px;color:#d0d0d0">MA(7):114503.8</span>
<span class="t b" style="left:47px;color:#ece233">MA(14):115132.0</span>
<span class="t" style="left:146.2px;color:#d23aa8;letter-spacing:.15px">MA(30):115839.1</span>
<span class="t" style="left:245.5px;color:#2598d2;letter-spacing:.15px">MA(60):115792.4</span>
<span class="t" style="left:345.5px;color:#a5d36e;letter-spacing:.15px">MA(90):114793.4</span>
<span class="t" style="left:444.5px;color:#ea8585;letter-spacing:.15px">MA(120):113837.7</span>
<span class="t b" style="left:550.5px;color:#14d2dc">MA(200):112949.0</span>
<span class="t" style="left:656.5px;color:#e8690c;letter-spacing:.22px">MA(360):114740.5</span>
</div>
<span class="t" style="font-size:12px;top:705px;left:-4.5px;color:#858993">9)</span>
<span class="t" style="font-size:12px;top:705px;left:13.5px;color:#c8c8c8;letter-spacing:-.25px">DIF:-617.3</span>
<span class="t b" style="font-size:12px;top:705px;left:74px;color:#ece233;letter-spacing:-.5px">DEA:-284.0</span>
<span class="t" style="font-size:12px;top:705px;left:138.5px;color:#d94545;letter-spacing:-.3px">MACD:-666.7</span>
<span class="t" style="font-size:12px;top:109px;left:709.5px;color:#eceef2;-webkit-text-stroke:.35px #eceef2;letter-spacing:.1px">117875.2</span>
<span class="t" style="font-size:12px;top:662px;left:112.6px;color:#eceef2;-webkit-text-stroke:.35px #eceef2;letter-spacing:.1px">107211.5</span>
<div class="ax">
<span class="t" style="left:38.5px">8月 31</span>
<span class="t" style="left:154.7px">9月 3</span>
<span class="t" style="left:270.8px">9月 6</span>
<span class="t" style="left:387.0px">9月 9</span>
<span class="t" style="left:503.1px">9月 12</span>
<span class="t" style="left:619.2px">9月 15</span>
<span class="t" style="left:735.4px">9月 18</span>
<span class="t" style="left:851.6px">9月 21</span>
<span class="t" style="left:967.7px">9月 24</span>
<span class="t" style="left:1083.9px">9月 27</span>
<span class="t" style="left:1200.0px">9月 30</span>
<span class="t" style="left:1316.2px">10月 3</span>
</div>
<div style="position:absolute;left:864px;top:811px;width:105px;height:18px;background:#5b6981"></div>
<span class="t" style="font-size:12px;top:814.5px;left:870px;color:#d6dae2">2025-09-22 16:00</span>
<svg width="1326" height="67" viewBox="0 0 1326 67" style="position:absolute;left:0;top:0" fill="none" stroke-linecap="round" stroke-linejoin="round">
<g stroke="#8e9299" stroke-width="1.3">
<rect x="20" y="12.6" width="3.6" height="9.8" rx="1.2"/>
<rect x="25.9" y="12.6" width="3.6" height="3.4" rx="1.1"/>
<rect x="25.9" y="18.9" width="3.6" height="3.4" rx="1.1"/>
</g>
<g stroke="#c0c4cc" stroke-width="1.2" stroke-linejoin="miter">
<path d="M79.2 17.5L84.6 11.6V23.4Z"/><path d="M86.2 17.5L91 11.6V23.4Z"/>
</g>
<g stroke="#b0b4bd" stroke-width="1.1">
<path d="M140.8 13.2V14.6M140.8 22.2V23.7M145.5 10.9V12.5M145.5 23V24.5M150.4 13.5V14.9M150.4 22.2V23.7"/>
<rect x="139.6" y="14.8" width="2.4" height="7.2" rx=".8"/>
<rect x="144.4" y="12.8" width="2.2" height="10" rx=".8"/>
<rect x="149.2" y="15.1" width="2.4" height="6.9" rx=".8" fill="#b0b4bd"/>
</g>
<g stroke="#b0b4bd" stroke-width="1.3"><path d="M160.3 15.2L164.6 19.9L168.9 15.2"/><path d="M216.5 15.2L220.8 19.9L225.1 15.2"/></g>
<g stroke="#5c606a" stroke-width="1.3"><path d="M1304.4 14.6H1307.2L1308.6 11.8H1312.8L1314.2 14.6H1316.9V22.7H1304.4Z"/><circle cx="1310.6" cy="17.6" r="2.6"/><rect x="1309.8" y="16.8" width="1.6" height="1.6" fill="#5c606a" stroke="none"/></g>
<g stroke="#a3a8b5" stroke-width="1.5">
<path d="M0 50H5.4"/>
<rect x="22.9" y="43.7" width="14.3" height="12.6" rx="1.5"/>
</g>
<g stroke="#a3a8b5" stroke-width="1.3"><path d="M56.2 55.3L68.9 43.4M65.2 43.2H69.1V47.1M54.9 53.6L57.8 56.9"/></g>
<g fill="#a3a8b5"><circle cx="89" cy="50" r="1.4"/><circle cx="93.8" cy="50" r="1.4"/><circle cx="98.6" cy="50" r="1.4"/></g>
<circle cx="106.9" cy="44" r="3.2" fill="#f15a29"/>
<path d="M116.9 44.6V55.9" stroke="#2a2620" stroke-width="1"/>
<path d="M291.6 44.2V56.2" stroke="#1c2a31" stroke-width="1"/>
<g stroke="#7c818c" stroke-width="1.6">
<path d="M228.4 53.6V45.4Q228.4 42.7 231.1 42.7H237.6"/>
<path d="M243.4 46.2V54.4Q243.4 57.1 240.7 57.1H234.2"/>
</g>
<g fill="#7c818c"><circle cx="238.2" cy="42.7" r="1.3"/><circle cx="233.6" cy="57.1" r="1.3"/></g>
<g stroke="#7c818c" stroke-width="1.1"><path d="M232.6 52.2L238 47L239.6 48.6L234.2 53.8Q232.9 54.4 232.4 53.6Q232 53 232.6 52.2Z"/><path d="M236.4 53.6H238.9"/></g>
<g stroke="#a0a4ae" stroke-width="1.2"><path d="M262 54L274.4 42.4M265.4 49.4L267.2 51.4M260.8 52.9L263.2 55.4"/></g>
<path d="M269.6 53.8L271.4 51.2H272.4L273 50.7L274.4 51.4L276.3 53.8L274.4 56.2L273 56.9L272.4 56.4H271.4Z" fill="#7c818c"/>
<g stroke="#1e88f0" stroke-width="1.6"><path d="M307.8 50.2V43.9Q307.8 42.9 308.8 42.9H316.6"/><path d="M312.4 56.8V47Q312.4 46 313.4 46H321.3Q322.3 46 322.3 47V56.8L317.35 54Z"/></g>
<g stroke="#a0a5b1" stroke-width="1.4" stroke-linejoin="miter">
<path d="M350.4 41.6L355.3 46.7L343.7 58.4L338.8 53.3Z"/>
<path d="M341.7 50.4L343.6 52.4" stroke-width="1.3"/>
<path d="M344.0 48.0L345.9 50.0" stroke-width="1.3"/>
<path d="M346.3 45.7L348.2 47.7" stroke-width="1.3"/>
<path d="M348.7 43.4L350.6 45.4" stroke-width="1.3"/>
</g>
<g stroke="#a0a5b1" stroke-width="1.4">
<path d="M381 43.3L385 47.2L376 56Q373.6 57.6 372 55.9Q370.6 54.2 372 52.2Z"/>
<path d="M378.3 46L382.3 49.9"/>
<path d="M380.2 54.4Q381.6 51.6 383 53.6Q384.6 56.2 386 54.6Q386.6 53.8 386.9 53.2" stroke-width="1.3"/>
</g>
<g stroke="#a0a5b1" stroke-width="1.2">
<path d="M405.2 43.2V45M405.2 54.6V56.6M411.4 44.6V46.4M411.4 54.6V56.6M417.2 43.2V45M417.2 54.6V56.6"/>
<rect x="403.6" y="45.2" width="3.2" height="9.2" rx=".8"/>
<rect x="409.8" y="46.8" width="3.2" height="7.6" rx=".8"/>
<rect x="415.6" y="45.2" width="3.2" height="9.2" rx=".8"/>
<path d="M404.4 53.6L418 44.8" stroke-width=".8" opacity=".7"/>
</g>
<g stroke="#9a9faa" stroke-width="1.5">
<rect x="436.3" y="47.3" width="13.6" height="9.6" rx="1.4"/>
<path d="M439.8 47.2V44.6Q439.8 41.3 443 41.3Q445.6 41.3 446.4 43.9"/>
</g>
<rect x="442.2" y="51.2" width="1.6" height="1.6" fill="#9a9faa"/>
<g stroke="#9a9faa" stroke-width="1.4">
<path d="M474.6 56.4H469.2Q467.4 56.4 467.4 54.6V45.2Q467.4 43.4 469.2 43.4H478.6Q480.4 43.4 480.4 45.2V49.4"/>
<path d="M470.2 47.4H477.2M470.2 50.5H474.6" stroke-width="1.2"/>
<path d="M475.4 54.4L480.4 50Q481.4 49.4 482.2 50.2Q482.9 51.1 482.1 52L477.2 56.4Q476.2 57 475.4 56.2Q474.8 55.3 475.4 54.4Z" stroke-width="1.1"/>
<path d="M479.6 56.6H482.2" stroke-width="1.2"/>
</g>
<g stroke="#9a9faa" stroke-width="1.3" transform="translate(508.6 48.6) rotate(45)">
<path d="M-6.4 6.2V0A6.4 6.4 0 0 1 6.4 0V6.2H2.5V0A2.5 2.5 0 0 0 -2.5 0V6.2Z"/>
<path d="M-6.4 3.6H-2.5M2.5 3.6H6.4"/>
</g>
<g stroke="#9a9faa" stroke-width="1.4" stroke-linejoin="miter"><path d="M531.6 42.6H546.4L540.7 48.3V57.2M531.6 42.6L537.2 48.3V54.8"/></g>
<g stroke="#a3a8b5" stroke-width="1.4">
<path d="M563.8 44.4H578M567.7 44.2Q568.4 41.4 570.2 41.4H572.4Q574.2 41.4 574.9 44.2"/>
<path d="M565.4 44.6V55.8Q565.4 57 566.6 57H575.6Q576.8 57 576.8 55.8V44.6"/>
</g>
<g fill="#7c818c"><rect x="568.4" y="47.6" width="1.5" height="6.2"/><rect x="572.3" y="47.6" width="1.5" height="6.2"/></g>
<g stroke="#3a3d46" stroke-width="1.4">
<path d="M598.7 46.4L595.6 49.4L598.7 52.6M595.8 49.4H602Q607.4 49.8 607.8 55.6"/>
<path d="M636.8 46.2L640 49.4L636.8 52.8M639.8 49.4H633.2Q627.8 49.8 627.3 55.6"/>
</g>
</svg>
</body></html>
